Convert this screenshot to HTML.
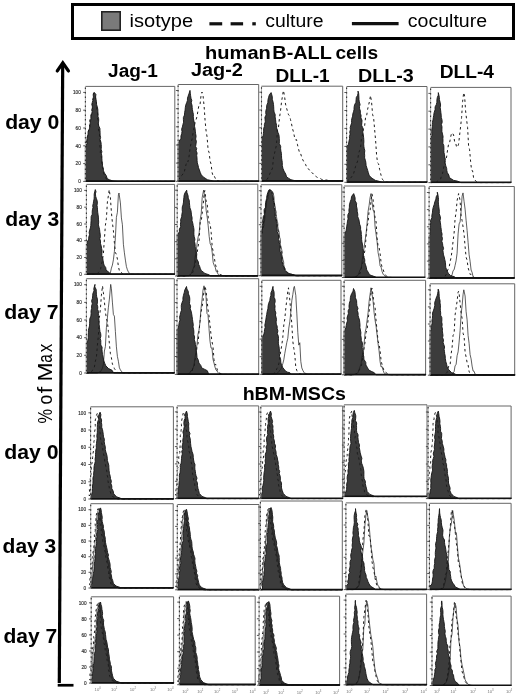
<!DOCTYPE html>
<html><head><meta charset="utf-8"><style>
html,body{margin:0;padding:0;background:#fff;}
body{width:520px;height:699px;overflow:hidden;position:relative;}
svg{position:absolute;left:0;top:0;will-change:transform;}
text{font-family:"Liberation Sans", sans-serif;}
</style></head><body>
<svg width="520" height="699" viewBox="0 0 520 699">
<rect x="72.5" y="4.5" width="441" height="34" fill="#fff" stroke="#000" stroke-width="3"/>
<rect x="101.8" y="11.8" width="18.4" height="18.4" fill="#7a7a7a" stroke="#222" stroke-width="1.6"/>
<line x1="209.4" y1="23.8" x2="222.2" y2="23.8" stroke="#111" stroke-width="3.2"/>
<line x1="230.6" y1="23.8" x2="243.1" y2="23.8" stroke="#111" stroke-width="3.2"/>
<line x1="252.3" y1="23.8" x2="255.8" y2="23.8" stroke="#111" stroke-width="3.2"/>
<line x1="351.9" y1="23.6" x2="398.6" y2="23.6" stroke="#111" stroke-width="3.2"/>
<text transform="translate(129.50,27.20) scale(1.0561,1)" font-size="19" fill="#000">isotype</text>
<text transform="translate(265.23,27.00) scale(1.0219,1)" font-size="19" fill="#000">culture</text>
<text transform="translate(407.82,27.00) scale(1.0287,1)" font-size="19" fill="#000">coculture</text>
<text transform="translate(205.10,58.80) scale(1.0560,1)" font-size="19" font-weight="bold" fill="#000">human</text>
<text transform="translate(272.31,58.80) scale(1.0454,1)" font-size="19" font-weight="bold" fill="#000">B-ALL</text>
<text transform="translate(335.43,58.80) scale(1.0085,1)" font-size="19" font-weight="bold" fill="#000">cells</text>
<text transform="translate(108.11,76.50) scale(1.0014,1)" font-size="19" font-weight="bold" fill="#000">Jag-1</text>
<text transform="translate(190.90,75.90) scale(1.0465,1)" font-size="19" font-weight="bold" fill="#000">Jag-2</text>
<text transform="translate(275.56,81.60) scale(1.0046,1)" font-size="19" font-weight="bold" fill="#000">DLL-1</text>
<text transform="translate(357.92,81.50) scale(1.0372,1)" font-size="19" font-weight="bold" fill="#000">DLL-3</text>
<text transform="translate(439.65,78.30) scale(1.0088,1)" font-size="19" font-weight="bold" fill="#000">DLL-4</text>
<text transform="translate(242.63,399.60) scale(1.0312,1)" font-size="19" font-weight="bold" fill="#000">hBM-MSCs</text>
<text transform="translate(5.15,129.00) scale(1.0586,1)" font-size="20" font-weight="bold" fill="#000">day 0</text>
<text transform="translate(5.25,225.80) scale(1.0565,1)" font-size="20" font-weight="bold" fill="#000">day 3</text>
<text transform="translate(4.25,319.20) scale(1.0628,1)" font-size="20" font-weight="bold" fill="#000">day 7</text>
<text transform="translate(4.25,459.30) scale(1.0606,1)" font-size="20" font-weight="bold" fill="#000">day 0</text>
<text transform="translate(2.56,552.60) scale(1.0504,1)" font-size="20" font-weight="bold" fill="#000">day 3</text>
<text transform="translate(3.46,643.00) scale(1.0526,1)" font-size="20" font-weight="bold" fill="#000">day 7</text>
<text transform="translate(51.70,423.47) rotate(-90) scale(0.838,1)" font-size="19.5" fill="#000">%</text>
<text transform="translate(51.70,404.40) rotate(-90) scale(0.896,1)" font-size="19.5" fill="#000">o</text>
<text transform="translate(51.70,393.35) rotate(-90) scale(1.180,1)" font-size="19.5" fill="#000">f</text>
<text transform="translate(51.70,381.54) rotate(-90) scale(1.179,1)" font-size="19.5" fill="#000">M</text>
<text transform="translate(51.70,362.69) rotate(-90) scale(0.784,1)" font-size="19.5" fill="#000">a</text>
<text transform="translate(51.70,352.26) rotate(-90) scale(0.874,1)" font-size="19.5" fill="#000">x</text>
<line x1="62.7" y1="63" x2="59.3" y2="683" stroke="#000" stroke-width="3.2"/>
<polyline points="57.3,70.9 62.8,62.8 68.4,70.9" fill="none" stroke="#000" stroke-width="3.3" stroke-linejoin="miter" stroke-linecap="round"/>
<rect x="57.7" y="683.9" width="15.8" height="2.7" fill="#000"/>
<path d="M85.4,86.4 H174.8 V181.4" fill="none" stroke="#666" stroke-width="1"/>
<polygon points="85.4,181.4 85.4,147.8 86.1,145.5 87.0,143.6 86.8,141.3 87.0,138.9 87.5,136.9 87.9,134.9 88.2,132.3 88.7,130.4 89.6,128.1 89.8,125.8 90.1,123.5 90.5,121.0 90.9,118.7 90.9,116.6 91.7,114.1 92.1,111.8 92.6,109.3 92.3,107.0 92.5,104.8 92.3,102.3 93.1,100.0 93.5,97.4 93.2,95.0 94.1,92.3 95.9,94.4 95.6,97.0 96.0,99.2 96.4,101.8 96.6,104.6 97.3,107.0 97.8,109.3 97.9,111.7 98.0,114.2 98.0,116.6 98.7,118.8 98.7,121.1 98.3,123.2 98.6,125.7 99.9,128.3 100.0,130.3 100.1,132.9 100.1,135.1 100.6,137.6 100.0,139.6 101.0,142.3 101.2,144.5 101.4,146.7 101.1,149.2 101.9,151.7 101.4,153.7 101.9,156.3 101.9,158.3 102.0,161.0 102.5,163.2 102.5,165.9 103.2,168.0 103.5,170.8 104.4,173.0 106.3,175.7 107.2,178.6 109.2,179.7 112.1,180.7 116.0,181.4 117.5,181.4 174.8,181.4" fill="#3c3c3c" stroke="#141414" stroke-width="0.9" stroke-linejoin="round"/>
<polyline points="85.4,148.6 85.7,146.2 85.9,144.4 86.2,142.1 87.0,139.7 87.0,137.7 87.7,135.5 87.9,133.5 88.3,131.2 89.0,128.9 89.7,126.5 89.3,124.1 89.6,121.8 90.0,119.5 90.6,117.2 91.1,114.9 91.5,112.6 91.8,110.1 92.0,107.9 91.7,105.5 92.1,103.2 92.5,100.8 93.1,98.1 93.1,95.6 93.5,93.1 95.3,95.2 95.4,97.5 95.4,100.4 96.4,102.7 96.6,105.2 96.7,107.8 97.1,110.3 97.4,112.5 97.9,115.0 97.2,117.2 97.8,119.5 98.1,121.9 98.4,124.1 98.8,126.7 98.4,129.0 98.8,131.3 99.5,133.8 99.5,135.9 100.0,138.2 100.1,140.5 100.2,142.9 99.9,145.2 100.1,147.8 100.5,150.0 100.3,152.2 100.7,154.5 101.4,157.0 101.6,159.5 101.6,161.5 101.9,164.0 102.1,166.5 103.1,169.1 103.3,171.2 103.8,173.8 105.3,176.8 106.6,179.4 108.9,180.6 111.5,181.4 115.4,181.4 116.9,181.4 174.8,181.4" fill="none" stroke="#1c1c1c" stroke-width="1.0" stroke-dasharray="2.5,3.0"/>
<line x1="85.4" y1="181.1" x2="175.3" y2="181.1" stroke="#111" stroke-width="1.6"/>
<line x1="85.4" y1="86.4" x2="85.4" y2="181.4" stroke="#aaa" stroke-width="1"/>
<line x1="85.4" y1="87.4" x2="85.4" y2="181.4" stroke="#333" stroke-width="1.1" stroke-dasharray="1.6,2.9"/>
<line x1="83.2" y1="181.4" x2="85.4" y2="181.4" stroke="#444" stroke-width="0.9"/>
<line x1="83.2" y1="163.6" x2="85.4" y2="163.6" stroke="#444" stroke-width="0.9"/>
<line x1="83.2" y1="145.8" x2="85.4" y2="145.8" stroke="#444" stroke-width="0.9"/>
<line x1="83.2" y1="128.0" x2="85.4" y2="128.0" stroke="#444" stroke-width="0.9"/>
<line x1="83.2" y1="110.2" x2="85.4" y2="110.2" stroke="#444" stroke-width="0.9"/>
<line x1="83.2" y1="92.4" x2="85.4" y2="92.4" stroke="#444" stroke-width="0.9"/>
<text x="80.8" y="183.1" font-size="4.7" fill="#2e2e2e" stroke="#2e2e2e" stroke-width="0.15" text-anchor="end" font-family='Liberation Sans', sans-serif>0</text>
<text x="80.8" y="165.3" font-size="4.7" fill="#2e2e2e" stroke="#2e2e2e" stroke-width="0.15" text-anchor="end" font-family='Liberation Sans', sans-serif>20</text>
<text x="80.8" y="147.5" font-size="4.7" fill="#2e2e2e" stroke="#2e2e2e" stroke-width="0.15" text-anchor="end" font-family='Liberation Sans', sans-serif>40</text>
<text x="80.8" y="129.7" font-size="4.7" fill="#2e2e2e" stroke="#2e2e2e" stroke-width="0.15" text-anchor="end" font-family='Liberation Sans', sans-serif>60</text>
<text x="80.8" y="111.9" font-size="4.7" fill="#2e2e2e" stroke="#2e2e2e" stroke-width="0.15" text-anchor="end" font-family='Liberation Sans', sans-serif>80</text>
<text x="80.8" y="94.1" font-size="4.7" fill="#2e2e2e" stroke="#2e2e2e" stroke-width="0.15" text-anchor="end" font-family='Liberation Sans', sans-serif>100</text>
<path d="M178.1,84.5 H258.7 V181.3" fill="none" stroke="#666" stroke-width="1"/>
<polygon points="178.1,181.3 178.1,144.0 179.1,141.2 181.0,138.3 180.9,136.1 181.7,133.7 182.0,131.5 181.6,129.2 182.4,126.9 182.9,124.5 183.6,122.2 183.4,119.6 183.4,117.5 184.5,115.0 184.6,112.6 185.1,110.1 185.3,107.6 185.7,105.2 186.7,102.6 187.4,100.5 187.5,98.1 188.1,96.2 188.9,94.0 190.0,90.4 190.3,93.2 190.6,95.6 191.0,98.3 191.8,100.4 191.2,102.9 192.0,105.1 192.2,107.4 192.4,109.7 192.9,112.2 193.4,114.3 193.3,116.8 193.5,118.9 193.9,121.1 194.7,123.7 194.5,126.2 195.1,128.8 195.3,131.1 195.6,133.7 196.1,136.3 195.6,139.1 196.4,141.3 196.0,144.0 195.6,146.5 196.7,148.5 196.1,150.9 197.1,153.0 196.7,155.4 197.0,158.0 197.1,160.4 197.3,162.9 198.1,165.4 198.5,167.6 199.4,170.0 200.3,172.6 201.2,174.6 203.1,176.9 205.2,178.2 207.4,179.7 210.5,180.4 213.1,181.1 214.6,181.3 258.7,181.3" fill="#3c3c3c" stroke="#141414" stroke-width="0.9" stroke-linejoin="round"/>
<polyline points="178.1,179.8 179.1,178.7 180.1,178.2 181.1,176.0 182.1,175.2 183.1,173.6 184.1,173.0 185.1,168.3 186.1,164.3 187.1,161.0 188.1,161.7 189.1,156.0 190.1,148.1 191.1,142.9 192.1,139.0 193.1,132.7 194.1,126.8 195.1,122.3 196.1,119.6 197.1,116.1 198.1,109.7 199.1,104.3 200.1,104.1 201.1,94.8 202.0,92.0 203.1,96.2 204.1,106.1 205.1,120.8 206.1,131.1 207.1,137.0 208.1,149.8 209.1,152.6 210.1,161.0 211.1,164.2 212.1,172.6 213.1,176.1 214.1,175.8 215.1,177.9 216.1,180.2 217.1,180.5 218.1,180.7 219.1,181.1 220.1,181.2 221.1,181.3 222.1,181.3 223.1,181.3 224.1,181.3 225.1,181.3 226.1,181.3 227.1,181.3 228.1,181.3 229.1,181.3 230.1,181.3 231.1,181.3 232.1,181.3 233.1,181.3 234.1,181.3 235.1,181.3 236.1,181.3 237.1,181.3 238.1,181.3 239.1,181.3 240.1,181.3 241.1,181.3 242.1,181.3 243.1,181.3 244.1,181.3 245.1,181.3 246.1,181.3 247.1,181.3 248.1,181.3 249.1,181.3 250.1,181.3 251.1,181.3 252.1,181.3 253.1,181.3 254.1,181.3 255.1,181.3 256.1,181.3 257.1,181.3 258.1,181.3 258.7,181.3" fill="none" stroke="#1c1c1c" stroke-width="1.0" stroke-dasharray="2.5,3.0"/>
<line x1="178.1" y1="181.0" x2="259.2" y2="181.0" stroke="#111" stroke-width="1.6"/>
<line x1="178.1" y1="84.5" x2="178.1" y2="181.3" stroke="#aaa" stroke-width="1"/>
<line x1="178.1" y1="85.5" x2="178.1" y2="181.3" stroke="#333" stroke-width="1.1" stroke-dasharray="1.6,2.9"/>
<line x1="175.9" y1="181.3" x2="178.1" y2="181.3" stroke="#444" stroke-width="0.9"/>
<line x1="175.9" y1="163.1" x2="178.1" y2="163.1" stroke="#444" stroke-width="0.9"/>
<line x1="175.9" y1="145.0" x2="178.1" y2="145.0" stroke="#444" stroke-width="0.9"/>
<line x1="175.9" y1="126.8" x2="178.1" y2="126.8" stroke="#444" stroke-width="0.9"/>
<line x1="175.9" y1="108.7" x2="178.1" y2="108.7" stroke="#444" stroke-width="0.9"/>
<line x1="175.9" y1="90.5" x2="178.1" y2="90.5" stroke="#444" stroke-width="0.9"/>
<path d="M261.5,86.2 H342.7 V181.2" fill="none" stroke="#666" stroke-width="1"/>
<polygon points="261.5,181.2 261.5,138.3 263.1,135.9 263.4,133.6 263.7,131.1 263.6,128.6 264.4,126.4 264.4,124.4 265.3,121.8 265.1,119.7 264.9,117.3 266.1,114.9 265.7,112.7 265.9,110.6 266.6,108.3 266.7,105.4 267.8,102.7 268.0,99.7 268.6,97.3 269.4,94.7 271.1,92.6 271.8,94.9 272.3,96.9 272.3,99.3 273.1,102.1 273.5,104.4 273.7,106.9 273.8,109.3 274.1,112.1 275.2,114.6 275.1,116.9 275.6,119.8 275.9,122.6 276.6,125.4 276.6,127.8 277.2,130.0 278.0,132.6 279.0,135.2 279.3,138.4 279.4,141.1 279.3,143.6 280.7,146.3 280.6,148.7 280.9,151.1 281.4,153.3 281.5,155.7 281.6,158.2 282.0,160.4 282.3,162.6 282.3,165.4 282.9,168.3 284.0,171.1 285.7,174.0 286.6,176.9 288.8,178.4 290.9,179.7 293.4,180.3 296.6,181.1 298.1,181.2 342.7,181.2" fill="#3c3c3c" stroke="#141414" stroke-width="0.9" stroke-linejoin="round"/>
<polyline points="261.5,181.1 262.5,181.0 263.5,180.9 264.5,180.6 265.5,180.4 266.5,179.5 267.5,178.9 268.5,176.8 269.5,174.6 270.5,172.1 271.5,170.3 272.5,168.2 273.5,157.4 274.5,153.5 275.5,148.9 276.5,145.0 277.5,128.0 278.5,127.3 279.5,117.6 280.5,111.2 281.5,102.1 282.5,95.9 283.4,90.5 284.5,95.8 285.5,104.0 286.5,107.9 287.5,111.4 288.5,114.8 289.5,115.6 290.5,119.5 291.5,123.8 292.5,128.6 293.5,132.0 294.5,137.1 295.5,139.9 296.5,139.6 297.5,144.8 298.5,148.8 299.5,152.6 300.5,153.1 301.5,156.6 302.5,159.2 303.5,161.2 304.5,162.9 305.5,164.3 306.5,166.7 307.5,167.4 308.5,169.3 309.5,169.8 310.5,171.4 311.5,172.5 312.5,173.0 313.5,174.2 314.5,175.7 315.5,176.1 316.5,176.8 317.5,177.5 318.5,177.6 319.5,178.1 320.5,178.6 321.5,179.3 322.5,179.5 323.5,179.7 324.5,179.8 325.5,179.9 326.5,180.0 327.5,180.3 328.5,180.3 329.5,180.5 330.5,180.6 331.5,180.7 332.5,180.8 333.5,180.8 334.5,180.9 335.5,180.9 336.5,181.0 337.5,181.0 338.5,181.0 339.5,181.1 340.5,181.1 341.5,181.1 342.5,181.1 342.7,181.1" fill="none" stroke="#1c1c1c" stroke-width="1.0" stroke-dasharray="2.5,3.0"/>
<line x1="261.5" y1="180.9" x2="343.2" y2="180.9" stroke="#111" stroke-width="1.6"/>
<line x1="261.5" y1="86.2" x2="261.5" y2="181.2" stroke="#aaa" stroke-width="1"/>
<line x1="261.5" y1="87.2" x2="261.5" y2="181.2" stroke="#333" stroke-width="1.1" stroke-dasharray="1.6,2.9"/>
<line x1="259.3" y1="181.2" x2="261.5" y2="181.2" stroke="#444" stroke-width="0.9"/>
<line x1="259.3" y1="163.4" x2="261.5" y2="163.4" stroke="#444" stroke-width="0.9"/>
<line x1="259.3" y1="145.6" x2="261.5" y2="145.6" stroke="#444" stroke-width="0.9"/>
<line x1="259.3" y1="127.8" x2="261.5" y2="127.8" stroke="#444" stroke-width="0.9"/>
<line x1="259.3" y1="110.0" x2="261.5" y2="110.0" stroke="#444" stroke-width="0.9"/>
<line x1="259.3" y1="92.2" x2="261.5" y2="92.2" stroke="#444" stroke-width="0.9"/>
<path d="M346.6,86.5 H427.0 V182.3" fill="none" stroke="#666" stroke-width="1"/>
<polygon points="346.6,182.3 346.6,146.9 348.5,144.2 349.0,141.1 349.6,138.7 349.4,136.6 350.2,134.0 349.7,132.2 350.4,129.7 350.2,127.5 350.8,125.2 351.7,122.9 351.5,120.5 351.9,118.3 352.6,116.2 352.8,114.0 353.5,111.7 354.0,109.7 354.1,107.2 354.6,104.7 355.9,102.4 356.1,99.7 356.3,97.5 357.6,95.3 358.1,93.1 358.0,91.1 358.7,93.7 358.9,97.0 359.0,99.7 359.3,102.0 360.1,104.5 359.5,106.6 359.6,108.8 360.4,111.1 360.3,113.2 361.1,115.5 360.9,117.8 362.0,120.2 361.9,122.6 361.6,125.2 362.7,127.7 362.7,130.1 362.9,132.6 363.3,134.8 363.6,137.3 363.8,139.6 363.9,141.7 363.7,144.0 363.9,146.4 364.2,148.3 364.8,150.7 364.5,153.1 364.7,155.4 364.6,157.9 365.5,160.6 365.9,162.8 366.1,165.4 366.9,168.0 367.7,170.4 368.3,172.6 369.1,175.2 371.1,177.6 372.9,178.8 375.4,180.4 378.0,181.0 381.1,181.9 382.6,182.3 427.0,182.3" fill="#3c3c3c" stroke="#141414" stroke-width="0.9" stroke-linejoin="round"/>
<polyline points="346.6,181.5 347.6,180.9 348.6,180.0 349.6,179.8 350.6,178.2 351.6,176.8 352.6,175.5 353.6,173.5 354.6,170.0 355.6,166.3 356.6,163.7 357.6,161.1 358.6,153.2 359.6,150.6 360.6,147.4 361.6,136.6 362.6,135.0 363.6,128.0 364.6,126.2 365.6,117.0 366.6,116.1 367.6,109.4 368.6,105.0 369.6,101.0 370.5,95.5 371.6,102.4 372.6,114.6 373.6,117.5 374.6,129.2 375.6,140.4 376.6,155.3 377.6,163.0 378.6,163.9 379.6,169.4 380.6,173.5 381.6,177.3 382.6,179.6 383.6,180.5 384.6,181.8 385.6,182.0 386.6,182.1 387.6,182.2 388.6,182.3 389.6,182.3 390.6,182.3 391.6,182.3 392.6,182.3 393.6,182.3 394.6,182.3 395.6,182.3 396.6,182.3 397.6,182.3 398.6,182.3 399.6,182.3 400.6,182.3 401.6,182.3 402.6,182.3 403.6,182.3 404.6,182.3 405.6,182.3 406.6,182.3 407.6,182.3 408.6,182.3 409.6,182.3 410.6,182.3 411.6,182.3 412.6,182.3 413.6,182.3 414.6,182.3 415.6,182.3 416.6,182.3 417.6,182.3 418.6,182.3 419.6,182.3 420.6,182.3 421.6,182.3 422.6,182.3 423.6,182.3 424.6,182.3 425.6,182.3 426.6,182.3 427.0,182.3" fill="none" stroke="#1c1c1c" stroke-width="1.0" stroke-dasharray="2.5,3.0"/>
<line x1="346.6" y1="182.0" x2="427.5" y2="182.0" stroke="#111" stroke-width="1.6"/>
<line x1="346.6" y1="86.5" x2="346.6" y2="182.3" stroke="#aaa" stroke-width="1"/>
<line x1="346.6" y1="87.5" x2="346.6" y2="182.3" stroke="#333" stroke-width="1.1" stroke-dasharray="1.6,2.9"/>
<line x1="344.4" y1="182.3" x2="346.6" y2="182.3" stroke="#444" stroke-width="0.9"/>
<line x1="344.4" y1="164.3" x2="346.6" y2="164.3" stroke="#444" stroke-width="0.9"/>
<line x1="344.4" y1="146.4" x2="346.6" y2="146.4" stroke="#444" stroke-width="0.9"/>
<line x1="344.4" y1="128.4" x2="346.6" y2="128.4" stroke="#444" stroke-width="0.9"/>
<line x1="344.4" y1="110.5" x2="346.6" y2="110.5" stroke="#444" stroke-width="0.9"/>
<line x1="344.4" y1="92.5" x2="346.6" y2="92.5" stroke="#444" stroke-width="0.9"/>
<path d="M430.6,87.4 H511.0 V182.6" fill="none" stroke="#666" stroke-width="1"/>
<polygon points="430.6,182.6 430.6,138.3 431.8,135.9 431.9,134.0 431.6,131.6 431.9,129.0 432.3,126.9 432.4,124.7 432.4,122.4 433.0,119.8 433.3,117.6 433.7,115.4 434.1,112.7 435.1,109.6 435.1,106.9 436.3,104.6 436.9,102.3 436.9,99.7 437.4,97.2 438.3,95.2 438.3,92.6 438.8,94.8 439.4,97.5 439.4,99.7 440.2,102.5 440.6,105.0 440.2,107.5 440.6,110.1 440.9,112.6 441.2,115.1 441.3,117.4 442.0,119.9 442.2,122.2 441.4,124.5 442.0,126.9 441.9,129.2 441.9,131.4 442.5,134.1 443.1,136.6 442.9,138.5 443.0,141.1 442.8,143.2 443.8,145.6 443.9,148.0 443.9,150.5 444.0,152.6 444.5,154.7 444.7,157.1 445.4,159.3 444.8,161.9 445.4,164.0 445.8,165.9 446.7,168.5 446.8,170.3 447.3,172.6 448.8,175.0 449.4,177.6 451.2,178.8 453.7,180.4 457.0,181.0 459.4,181.9 460.9,182.6 511.0,182.6" fill="#3c3c3c" stroke="#141414" stroke-width="0.9" stroke-linejoin="round"/>
<polyline points="430.6,182.6 431.6,182.6 432.6,182.5 433.6,182.4 434.6,182.4 435.6,182.1 436.6,182.0 437.6,181.1 438.6,180.2 439.6,179.5 440.6,179.2 441.6,175.0 442.6,173.3 443.6,168.0 444.6,163.2 445.6,160.0 446.6,157.0 447.6,149.7 448.6,144.0 449.6,142.7 450.6,137.3 451.6,132.9 452.6,133.3 453.6,135.0 454.6,141.6 455.6,142.5 456.6,147.3 457.6,146.7 458.6,144.2 459.6,135.2 460.6,126.5 461.6,117.4 462.6,101.7 463.7,92.6 464.6,96.2 465.6,110.9 466.6,119.6 467.6,127.6 468.6,146.0 469.6,149.7 470.6,161.5 471.6,170.4 472.6,170.7 473.6,178.0 474.6,179.1 475.6,180.9 476.6,181.7 477.6,182.1 478.6,182.5 479.6,182.5 480.6,182.6 481.6,182.6 482.6,182.6 483.6,182.6 484.6,182.6 485.6,182.6 486.6,182.6 487.6,182.6 488.6,182.6 489.6,182.6 490.6,182.6 491.6,182.6 492.6,182.6 493.6,182.6 494.6,182.6 495.6,182.6 496.6,182.6 497.6,182.6 498.6,182.6 499.6,182.6 500.6,182.6 501.6,182.6 502.6,182.6 503.6,182.6 504.6,182.6 505.6,182.6 506.6,182.6 507.6,182.6 508.6,182.6 509.6,182.6 510.6,182.6 511.0,182.6" fill="none" stroke="#1c1c1c" stroke-width="1.0" stroke-dasharray="2.5,3.0"/>
<line x1="430.6" y1="182.3" x2="511.5" y2="182.3" stroke="#111" stroke-width="1.6"/>
<line x1="430.6" y1="87.4" x2="430.6" y2="182.6" stroke="#aaa" stroke-width="1"/>
<line x1="430.6" y1="88.4" x2="430.6" y2="182.6" stroke="#333" stroke-width="1.1" stroke-dasharray="1.6,2.9"/>
<line x1="428.4" y1="182.6" x2="430.6" y2="182.6" stroke="#444" stroke-width="0.9"/>
<line x1="428.4" y1="164.8" x2="430.6" y2="164.8" stroke="#444" stroke-width="0.9"/>
<line x1="428.4" y1="146.9" x2="430.6" y2="146.9" stroke="#444" stroke-width="0.9"/>
<line x1="428.4" y1="129.1" x2="430.6" y2="129.1" stroke="#444" stroke-width="0.9"/>
<line x1="428.4" y1="111.2" x2="430.6" y2="111.2" stroke="#444" stroke-width="0.9"/>
<line x1="428.4" y1="93.4" x2="430.6" y2="93.4" stroke="#444" stroke-width="0.9"/>
<path d="M86.4,184.4 H174.6 V274.3" fill="none" stroke="#666" stroke-width="1"/>
<polygon points="86.4,274.3 86.4,246.6 87.5,244.4 87.2,242.0 88.7,239.2 88.8,237.0 89.5,234.8 89.1,232.6 89.7,230.1 90.4,227.9 90.8,225.4 90.9,223.2 91.1,220.8 91.1,218.8 91.2,216.5 92.3,214.2 92.2,212.2 92.4,209.8 93.0,207.6 92.7,205.7 93.3,203.4 93.6,201.2 94.1,198.9 94.2,196.4 94.2,194.1 94.7,191.8 95.3,189.6 96.0,191.7 95.4,193.9 95.7,196.4 96.4,198.5 97.2,200.9 97.4,203.1 97.0,205.3 97.4,207.5 97.5,209.9 97.7,212.2 98.1,214.9 98.4,217.1 98.5,219.9 98.7,222.1 98.4,224.9 99.1,227.4 99.6,229.7 99.8,232.0 100.2,234.1 100.4,236.7 99.8,238.7 100.5,241.1 100.5,243.7 101.2,245.9 101.6,248.4 102.1,250.9 101.9,253.5 101.8,255.8 102.7,258.3 103.1,260.5 103.5,263.1 104.1,265.2 105.8,267.7 106.0,270.0 109.4,272.7 110.9,274.3 174.6,274.3" fill="#3c3c3c" stroke="#141414" stroke-width="0.9" stroke-linejoin="round"/>
<polyline points="86.4,274.3 87.4,274.3 88.4,274.3 89.4,274.3 90.4,274.3 91.4,274.3 92.4,274.3 93.4,274.3 94.4,274.2 95.4,274.2 96.4,274.0 97.4,273.5 98.4,272.5 99.4,271.3 100.4,270.2 101.4,264.8 102.4,260.5 103.4,253.5 104.4,239.0 105.4,225.3 106.4,218.6 107.4,201.9 108.4,195.6 109.2,189.6 110.4,197.6 111.4,212.2 112.4,222.6 113.4,230.6 114.4,242.8 115.4,252.6 116.4,254.4 117.4,259.1 118.4,266.4 119.4,270.9 120.4,270.7 121.4,272.4 122.4,273.7 123.4,274.0 124.4,274.2 125.4,274.2 126.4,274.3 127.4,274.3 128.4,274.3 129.4,274.3 130.4,274.3 131.4,274.3 132.4,274.3 133.4,274.3 134.4,274.3 135.4,274.3 136.4,274.3 137.4,274.3 138.4,274.3 139.4,274.3 140.4,274.3 141.4,274.3 142.4,274.3 143.4,274.3 144.4,274.3 145.4,274.3 146.4,274.3 147.4,274.3 148.4,274.3 149.4,274.3 150.4,274.3 151.4,274.3 152.4,274.3 153.4,274.3 154.4,274.3 155.4,274.3 156.4,274.3 157.4,274.3 158.4,274.3 159.4,274.3 160.4,274.3 161.4,274.3 162.4,274.3 163.4,274.3 164.4,274.3 165.4,274.3 166.4,274.3 167.4,274.3 168.4,274.3 169.4,274.3 170.4,274.3 171.4,274.3 172.4,274.3 173.4,274.3 174.4,274.3 174.6,274.3" fill="none" stroke="#1c1c1c" stroke-width="1.0" stroke-dasharray="2.5,3.0"/>
<polyline points="86.4,274.3 87.4,274.3 88.4,274.3 89.4,274.3 90.4,274.3 91.4,274.3 92.4,274.3 93.4,274.3 94.4,274.3 95.4,274.3 96.4,274.3 97.4,274.3 98.4,274.3 99.4,274.3 100.4,274.3 101.4,274.3 102.4,274.3 103.4,274.3 104.4,274.3 105.4,274.3 106.4,274.3 107.4,274.2 108.4,274.1 109.4,273.4 110.4,272.8 111.4,268.1 112.4,265.1 113.4,259.8 114.4,251.4 115.4,237.5 116.4,217.4 117.4,212.3 118.4,194.8 119.0,193.0 120.4,202.9 121.4,217.9 122.4,224.7 123.4,244.3 124.4,252.8 125.4,260.1 126.4,266.5 127.4,269.8 128.4,271.9 129.4,273.4 130.4,274.1 131.4,274.2 132.4,274.3 133.4,274.3 134.4,274.3 135.4,274.3 136.4,274.3 137.4,274.3 138.4,274.3 139.4,274.3 140.4,274.3 141.4,274.3 142.4,274.3 143.4,274.3 144.4,274.3 145.4,274.3 146.4,274.3 147.4,274.3 148.4,274.3 149.4,274.3 150.4,274.3 151.4,274.3 152.4,274.3 153.4,274.3 154.4,274.3 155.4,274.3 156.4,274.3 157.4,274.3 158.4,274.3 159.4,274.3 160.4,274.3 161.4,274.3 162.4,274.3 163.4,274.3 164.4,274.3 165.4,274.3 166.4,274.3 167.4,274.3 168.4,274.3 169.4,274.3 170.4,274.3 171.4,274.3 172.4,274.3 173.4,274.3 174.4,274.3 174.6,274.3" fill="none" stroke="#1a1a1a" stroke-width="0.7"/>
<line x1="86.4" y1="274.0" x2="175.1" y2="274.0" stroke="#111" stroke-width="1.6"/>
<line x1="86.4" y1="184.4" x2="86.4" y2="274.3" stroke="#aaa" stroke-width="1"/>
<line x1="86.4" y1="185.4" x2="86.4" y2="274.3" stroke="#333" stroke-width="1.1" stroke-dasharray="1.6,2.9"/>
<line x1="84.2" y1="274.3" x2="86.4" y2="274.3" stroke="#444" stroke-width="0.9"/>
<line x1="84.2" y1="257.5" x2="86.4" y2="257.5" stroke="#444" stroke-width="0.9"/>
<line x1="84.2" y1="240.7" x2="86.4" y2="240.7" stroke="#444" stroke-width="0.9"/>
<line x1="84.2" y1="224.0" x2="86.4" y2="224.0" stroke="#444" stroke-width="0.9"/>
<line x1="84.2" y1="207.2" x2="86.4" y2="207.2" stroke="#444" stroke-width="0.9"/>
<line x1="84.2" y1="190.4" x2="86.4" y2="190.4" stroke="#444" stroke-width="0.9"/>
<text x="81.8" y="276.0" font-size="4.7" fill="#2e2e2e" stroke="#2e2e2e" stroke-width="0.15" text-anchor="end" font-family='Liberation Sans', sans-serif>0</text>
<text x="81.8" y="259.2" font-size="4.7" fill="#2e2e2e" stroke="#2e2e2e" stroke-width="0.15" text-anchor="end" font-family='Liberation Sans', sans-serif>20</text>
<text x="81.8" y="242.4" font-size="4.7" fill="#2e2e2e" stroke="#2e2e2e" stroke-width="0.15" text-anchor="end" font-family='Liberation Sans', sans-serif>40</text>
<text x="81.8" y="225.7" font-size="4.7" fill="#2e2e2e" stroke="#2e2e2e" stroke-width="0.15" text-anchor="end" font-family='Liberation Sans', sans-serif>60</text>
<text x="81.8" y="208.9" font-size="4.7" fill="#2e2e2e" stroke="#2e2e2e" stroke-width="0.15" text-anchor="end" font-family='Liberation Sans', sans-serif>80</text>
<text x="81.8" y="192.1" font-size="4.7" fill="#2e2e2e" stroke="#2e2e2e" stroke-width="0.15" text-anchor="end" font-family='Liberation Sans', sans-serif>100</text>
<path d="M177.2,184.2 H257.8 V276.0" fill="none" stroke="#666" stroke-width="1"/>
<polygon points="177.2,276.0 177.2,234.2 178.1,234.2 179.4,231.5 179.4,229.1 180.7,226.8 180.4,224.2 180.8,221.9 180.6,219.7 181.7,216.8 181.8,214.6 182.4,211.9 182.2,209.5 182.3,206.9 183.0,204.9 183.5,202.1 183.6,199.9 183.9,197.4 184.1,195.3 184.9,193.0 186.7,190.2 187.0,192.8 188.1,195.7 188.2,198.1 189.3,200.4 189.4,202.9 189.7,205.4 189.9,207.7 190.9,210.4 191.3,212.8 191.4,215.0 192.1,217.6 192.0,220.5 192.8,223.2 193.2,225.5 193.7,227.7 194.0,229.9 193.9,232.1 193.9,234.2 194.2,236.8 194.9,239.2 194.5,241.6 195.1,244.2 195.2,246.6 195.5,248.9 196.2,251.5 196.8,254.0 196.6,256.2 196.7,258.9 198.3,261.8 198.7,264.5 199.7,266.5 200.4,268.8 201.4,270.7 203.4,272.2 204.9,273.4 209.0,274.8 210.5,276.0 257.8,276.0" fill="#3c3c3c" stroke="#141414" stroke-width="0.9" stroke-linejoin="round"/>
<polyline points="177.2,276.0 178.2,276.0 179.2,276.0 180.2,276.0 181.2,276.0 182.2,276.0 183.2,276.0 184.2,276.0 185.2,276.0 186.2,275.9 187.2,275.8 188.2,275.7 189.2,275.5 190.2,275.2 191.2,274.8 192.2,273.8 193.2,271.3 194.2,266.4 195.2,265.8 196.2,255.7 197.2,252.2 198.2,246.0 199.2,239.1 200.2,222.0 201.2,221.3 202.2,213.6 203.2,204.4 204.2,193.2 204.8,190.5 206.2,201.3 207.2,203.5 208.2,217.1 209.2,222.7 210.2,224.2 211.2,232.7 212.2,246.9 213.2,251.6 214.2,256.5 215.2,263.7 216.2,267.1 217.2,270.5 218.2,272.5 219.2,274.0 220.2,274.4 221.2,274.8 222.2,275.6 223.2,275.5 224.2,275.8 225.2,275.9 226.2,276.0 227.2,276.0 228.2,276.0 229.2,276.0 230.2,276.0 231.2,276.0 232.2,276.0 233.2,276.0 234.2,276.0 235.2,276.0 236.2,276.0 237.2,276.0 238.2,276.0 239.2,276.0 240.2,276.0 241.2,276.0 242.2,276.0 243.2,276.0 244.2,276.0 245.2,276.0 246.2,276.0 247.2,276.0 248.2,276.0 249.2,276.0 250.2,276.0 251.2,276.0 252.2,276.0 253.2,276.0 254.2,276.0 255.2,276.0 256.2,276.0 257.2,276.0 257.8,276.0" fill="none" stroke="#1c1c1c" stroke-width="1.0" stroke-dasharray="2.5,3.0"/>
<polyline points="177.2,276.0 178.2,276.0 179.2,276.0 180.2,276.0 181.2,276.0 182.2,276.0 183.2,276.0 184.2,276.0 185.2,275.9 186.2,275.9 187.2,275.8 188.2,275.7 189.2,275.2 190.2,274.9 191.2,273.6 192.2,271.3 193.2,268.7 194.2,266.4 195.2,256.5 196.2,251.6 197.2,242.7 198.2,236.8 199.2,232.6 200.2,219.8 201.2,213.8 202.2,197.6 203.6,190.2 204.2,193.3 205.2,198.5 206.2,210.6 207.2,217.1 208.2,225.8 209.2,236.6 210.2,243.8 211.2,245.7 212.2,252.3 213.2,262.5 214.2,265.4 215.2,267.1 216.2,271.5 217.2,272.1 218.2,274.5 219.2,275.2 220.2,275.3 221.2,275.7 222.2,275.7 223.2,275.9 224.2,275.9 225.2,276.0 226.2,276.0 227.2,276.0 228.2,276.0 229.2,276.0 230.2,276.0 231.2,276.0 232.2,276.0 233.2,276.0 234.2,276.0 235.2,276.0 236.2,276.0 237.2,276.0 238.2,276.0 239.2,276.0 240.2,276.0 241.2,276.0 242.2,276.0 243.2,276.0 244.2,276.0 245.2,276.0 246.2,276.0 247.2,276.0 248.2,276.0 249.2,276.0 250.2,276.0 251.2,276.0 252.2,276.0 253.2,276.0 254.2,276.0 255.2,276.0 256.2,276.0 257.2,276.0 257.8,276.0" fill="none" stroke="#1a1a1a" stroke-width="0.7"/>
<line x1="177.2" y1="275.7" x2="258.3" y2="275.7" stroke="#111" stroke-width="1.6"/>
<line x1="177.2" y1="184.2" x2="177.2" y2="276.0" stroke="#aaa" stroke-width="1"/>
<line x1="177.2" y1="185.2" x2="177.2" y2="276.0" stroke="#333" stroke-width="1.1" stroke-dasharray="1.6,2.9"/>
<line x1="175.0" y1="276.0" x2="177.2" y2="276.0" stroke="#444" stroke-width="0.9"/>
<line x1="175.0" y1="258.8" x2="177.2" y2="258.8" stroke="#444" stroke-width="0.9"/>
<line x1="175.0" y1="241.7" x2="177.2" y2="241.7" stroke="#444" stroke-width="0.9"/>
<line x1="175.0" y1="224.5" x2="177.2" y2="224.5" stroke="#444" stroke-width="0.9"/>
<line x1="175.0" y1="207.4" x2="177.2" y2="207.4" stroke="#444" stroke-width="0.9"/>
<line x1="175.0" y1="190.2" x2="177.2" y2="190.2" stroke="#444" stroke-width="0.9"/>
<path d="M261.0,184.7 H341.8 V275.7" fill="none" stroke="#666" stroke-width="1"/>
<polygon points="261.0,275.7 261.0,232.9 261.3,230.6 262.6,228.0 262.2,225.5 262.8,223.2 262.6,220.9 263.0,219.0 263.3,216.5 264.4,214.6 264.2,212.2 264.1,209.7 265.5,207.3 265.4,205.1 265.6,202.6 266.2,200.1 266.7,198.2 266.9,195.7 267.7,192.9 268.7,190.2 269.7,189.6 271.7,191.6 272.4,194.6 273.2,197.0 273.1,199.9 273.8,202.3 274.4,204.9 274.1,207.3 274.5,209.5 275.3,211.7 275.1,214.5 275.2,216.7 275.9,219.1 276.4,221.4 276.9,223.7 277.0,226.3 277.2,228.7 277.1,231.6 278.5,234.4 278.6,237.0 278.6,239.4 278.9,241.9 279.8,244.4 280.0,246.6 279.9,248.9 280.2,251.6 281.2,253.6 281.4,256.2 282.1,258.9 282.1,261.9 282.7,264.5 284.0,267.6 284.8,270.7 288.2,273.4 290.7,274.0 293.7,274.8 295.2,275.7 341.8,275.7" fill="#3c3c3c" stroke="#141414" stroke-width="0.9" stroke-linejoin="round"/>
<polyline points="261.0,233.4 262.0,233.4 262.2,230.8 262.4,228.6 263.5,226.2 263.4,223.7 263.6,221.3 264.4,219.2 264.0,217.2 264.9,214.7 264.8,212.7 264.7,210.2 266.0,207.9 265.5,205.6 266.2,203.1 266.6,200.6 266.6,198.4 267.5,196.2 268.9,193.4 269.3,190.7 270.3,190.1 272.3,192.1 273.3,194.8 273.1,197.5 273.7,200.4 274.2,202.7 274.8,205.2 274.3,207.6 275.1,210.0 275.4,212.5 275.9,214.6 276.1,217.3 276.5,219.6 276.4,222.2 277.4,224.3 277.1,226.8 277.8,229.2 278.4,232.0 278.4,234.8 279.2,237.5 279.6,239.8 279.9,242.4 280.5,244.5 280.6,247.1 280.5,249.6 281.8,251.9 282.0,254.3 282.0,256.7 282.1,259.5 282.6,262.4 283.3,265.0 284.6,267.9 285.4,271.2 288.8,273.9 291.4,274.7 294.3,275.3 295.8,275.7 341.8,275.7" fill="none" stroke="#1c1c1c" stroke-width="1.0" stroke-dasharray="2.5,3.0"/>
<polyline points="261.0,233.1 262.4,233.1 262.3,230.6 262.6,228.3 263.9,225.9 263.8,223.4 264.5,221.1 264.7,219.2 265.0,216.7 264.7,214.8 265.2,212.4 265.7,210.0 265.7,207.4 266.5,205.2 266.6,202.8 266.7,200.4 268.0,198.4 267.9,195.9 268.3,193.0 269.7,190.4 270.7,189.8 272.7,191.8 273.5,194.5 274.0,197.3 274.1,200.1 274.3,202.7 274.6,205.1 275.4,207.2 275.5,209.7 276.3,212.3 275.8,214.5 276.5,216.8 276.9,219.3 277.5,221.9 277.9,224.2 277.8,226.6 278.2,228.9 279.0,231.6 279.4,234.4 279.6,237.2 280.4,239.5 280.3,242.0 280.3,244.4 281.0,246.8 281.6,249.3 282.1,251.7 281.7,254.0 282.4,256.4 282.8,259.0 283.7,262.0 283.7,264.7 284.6,267.8 285.8,270.9 289.2,273.6 292.1,274.4 294.7,275.0 296.2,275.7 341.8,275.7" fill="none" stroke="#1a1a1a" stroke-width="0.7"/>
<line x1="261.0" y1="275.4" x2="342.3" y2="275.4" stroke="#111" stroke-width="1.6"/>
<line x1="261.0" y1="184.7" x2="261.0" y2="275.7" stroke="#aaa" stroke-width="1"/>
<line x1="261.0" y1="185.7" x2="261.0" y2="275.7" stroke="#333" stroke-width="1.1" stroke-dasharray="1.6,2.9"/>
<line x1="258.8" y1="275.7" x2="261.0" y2="275.7" stroke="#444" stroke-width="0.9"/>
<line x1="258.8" y1="258.7" x2="261.0" y2="258.7" stroke="#444" stroke-width="0.9"/>
<line x1="258.8" y1="241.7" x2="261.0" y2="241.7" stroke="#444" stroke-width="0.9"/>
<line x1="258.8" y1="224.7" x2="261.0" y2="224.7" stroke="#444" stroke-width="0.9"/>
<line x1="258.8" y1="207.7" x2="261.0" y2="207.7" stroke="#444" stroke-width="0.9"/>
<line x1="258.8" y1="190.7" x2="261.0" y2="190.7" stroke="#444" stroke-width="0.9"/>
<path d="M344.1,186.0 H424.9 V277.5" fill="none" stroke="#666" stroke-width="1"/>
<polygon points="344.1,277.5 344.1,236.2 345.0,233.4 346.1,230.7 346.5,228.1 346.8,226.1 347.2,223.5 347.5,221.1 348.1,218.9 347.8,216.9 347.9,214.7 349.1,212.3 348.9,210.1 349.4,207.2 349.4,204.8 350.2,201.9 351.2,199.2 351.6,196.4 353.7,193.6 355.1,197.7 355.1,200.6 356.6,203.4 356.4,206.0 357.1,208.7 357.2,211.3 357.8,214.2 357.7,216.7 358.6,218.7 359.2,221.1 359.6,224.1 360.6,226.7 360.6,229.4 361.2,231.9 361.3,234.5 361.6,236.6 361.6,239.3 361.9,241.7 362.4,244.1 362.8,246.1 362.7,248.4 363.3,250.4 363.3,252.7 363.5,255.2 364.0,257.6 364.8,259.9 364.7,262.4 365.5,264.8 366.4,267.5 366.7,269.9 368.2,272.2 369.5,274.7 371.8,275.6 375.0,276.8 376.5,277.5 424.9,277.5" fill="#3c3c3c" stroke="#141414" stroke-width="0.9" stroke-linejoin="round"/>
<polyline points="344.1,277.5 345.1,277.5 346.1,277.5 347.1,277.5 348.1,277.5 349.1,277.5 350.1,277.5 351.1,277.5 352.1,277.5 353.1,277.4 354.1,277.3 355.1,277.2 356.1,276.6 357.1,275.9 358.1,274.8 359.1,273.6 360.1,273.6 361.1,268.3 362.1,264.8 363.1,262.1 364.1,253.9 365.1,249.9 366.1,236.1 367.1,226.1 368.1,222.7 369.1,210.9 370.1,210.6 371.1,199.9 372.0,193.8 373.1,199.5 374.1,210.8 375.1,217.6 376.1,222.0 377.1,238.1 378.1,246.4 379.1,247.5 380.1,253.6 381.1,262.8 382.1,267.6 383.1,269.3 384.1,272.5 385.1,274.4 386.1,275.6 387.1,276.7 388.1,277.0 389.1,277.3 390.1,277.4 391.1,277.4 392.1,277.5 393.1,277.5 394.1,277.5 395.1,277.5 396.1,277.5 397.1,277.5 398.1,277.5 399.1,277.5 400.1,277.5 401.1,277.5 402.1,277.5 403.1,277.5 404.1,277.5 405.1,277.5 406.1,277.5 407.1,277.5 408.1,277.5 409.1,277.5 410.1,277.5 411.1,277.5 412.1,277.5 413.1,277.5 414.1,277.5 415.1,277.5 416.1,277.5 417.1,277.5 418.1,277.5 419.1,277.5 420.1,277.5 421.1,277.5 422.1,277.5 423.1,277.5 424.1,277.5 424.9,277.5" fill="none" stroke="#1c1c1c" stroke-width="1.0" stroke-dasharray="2.5,3.0"/>
<polyline points="344.1,277.5 345.1,277.5 346.1,277.5 347.1,277.5 348.1,277.5 349.1,277.5 350.1,277.5 351.1,277.5 352.1,277.5 353.1,277.3 354.1,277.3 355.1,276.9 356.1,276.6 357.1,276.2 358.1,275.0 359.1,272.6 360.1,269.6 361.1,269.2 362.1,260.9 363.1,254.1 364.1,247.5 365.1,240.5 366.1,233.6 367.1,223.0 368.1,211.3 369.1,205.5 370.1,197.5 371.0,193.6 372.1,202.6 373.1,210.1 374.1,211.7 375.1,227.1 376.1,234.4 377.1,241.8 378.1,252.7 379.1,257.6 380.1,265.8 381.1,267.2 382.1,271.6 383.1,274.2 384.1,275.3 385.1,276.2 386.1,276.8 387.1,277.0 388.1,277.3 389.1,277.4 390.1,277.4 391.1,277.5 392.1,277.5 393.1,277.5 394.1,277.5 395.1,277.5 396.1,277.5 397.1,277.5 398.1,277.5 399.1,277.5 400.1,277.5 401.1,277.5 402.1,277.5 403.1,277.5 404.1,277.5 405.1,277.5 406.1,277.5 407.1,277.5 408.1,277.5 409.1,277.5 410.1,277.5 411.1,277.5 412.1,277.5 413.1,277.5 414.1,277.5 415.1,277.5 416.1,277.5 417.1,277.5 418.1,277.5 419.1,277.5 420.1,277.5 421.1,277.5 422.1,277.5 423.1,277.5 424.1,277.5 424.9,277.5" fill="none" stroke="#1a1a1a" stroke-width="0.7"/>
<line x1="344.1" y1="277.2" x2="425.4" y2="277.2" stroke="#111" stroke-width="1.6"/>
<line x1="344.1" y1="186.0" x2="344.1" y2="277.5" stroke="#aaa" stroke-width="1"/>
<line x1="344.1" y1="187.0" x2="344.1" y2="277.5" stroke="#333" stroke-width="1.1" stroke-dasharray="1.6,2.9"/>
<line x1="341.9" y1="277.5" x2="344.1" y2="277.5" stroke="#444" stroke-width="0.9"/>
<line x1="341.9" y1="260.4" x2="344.1" y2="260.4" stroke="#444" stroke-width="0.9"/>
<line x1="341.9" y1="243.3" x2="344.1" y2="243.3" stroke="#444" stroke-width="0.9"/>
<line x1="341.9" y1="226.2" x2="344.1" y2="226.2" stroke="#444" stroke-width="0.9"/>
<line x1="341.9" y1="209.1" x2="344.1" y2="209.1" stroke="#444" stroke-width="0.9"/>
<line x1="341.9" y1="192.0" x2="344.1" y2="192.0" stroke="#444" stroke-width="0.9"/>
<path d="M429.1,186.5 H514.3 V278.2" fill="none" stroke="#666" stroke-width="1"/>
<polygon points="429.1,278.2 429.1,236.2 430.2,233.9 430.2,231.7 430.0,229.5 430.3,227.2 430.4,225.2 430.7,222.7 430.5,220.6 431.9,217.8 431.8,215.6 432.4,212.9 432.6,210.2 433.2,207.4 434.2,204.5 434.8,201.9 435.9,199.1 436.2,196.8 437.4,194.7 437.3,192.2 437.9,194.6 438.3,197.3 438.5,199.3 438.3,201.9 438.5,204.2 438.8,206.9 439.1,209.0 439.4,211.5 439.2,213.6 440.2,216.3 440.5,218.1 440.0,220.5 440.4,222.8 440.7,225.2 440.9,227.4 441.3,229.6 441.4,231.6 442.1,234.0 441.8,236.2 442.5,238.5 441.8,241.3 442.5,243.3 442.8,245.9 443.6,248.3 442.9,250.5 443.2,252.3 443.5,254.9 444.2,256.9 444.8,259.7 445.4,262.3 445.6,265.1 445.7,267.2 446.6,269.7 447.6,272.0 448.5,273.5 450.4,275.4 454.5,276.8 456.0,278.2 514.3,278.2" fill="#3c3c3c" stroke="#141414" stroke-width="0.9" stroke-linejoin="round"/>
<polyline points="429.1,278.2 430.1,278.2 431.1,278.2 432.1,278.2 433.1,278.2 434.1,278.2 435.1,278.2 436.1,278.2 437.1,278.2 438.1,278.2 439.1,278.2 440.1,278.1 441.1,278.0 442.1,277.9 443.1,277.5 444.1,277.1 445.1,276.2 446.1,274.6 447.1,271.3 448.1,269.2 449.1,267.4 450.1,261.9 451.1,257.3 452.1,250.3 453.1,240.9 454.1,233.0 455.1,218.6 456.1,212.1 457.1,200.6 458.1,195.9 458.6,193.6 459.1,195.5 460.1,200.8 461.1,216.3 462.1,220.5 463.1,227.2 464.1,234.3 465.1,246.8 466.1,257.2 467.1,260.2 468.1,267.7 469.1,271.1 470.1,274.4 471.1,274.1 472.1,275.9 473.1,277.1 474.1,277.5 475.1,278.0 476.1,278.0 477.1,278.1 478.1,278.2 479.1,278.2 480.1,278.2 481.1,278.2 482.1,278.2 483.1,278.2 484.1,278.2 485.1,278.2 486.1,278.2 487.1,278.2 488.1,278.2 489.1,278.2 490.1,278.2 491.1,278.2 492.1,278.2 493.1,278.2 494.1,278.2 495.1,278.2 496.1,278.2 497.1,278.2 498.1,278.2 499.1,278.2 500.1,278.2 501.1,278.2 502.1,278.2 503.1,278.2 504.1,278.2 505.1,278.2 506.1,278.2 507.1,278.2 508.1,278.2 509.1,278.2 510.1,278.2 511.1,278.2 512.1,278.2 513.1,278.2 514.1,278.2 514.3,278.2" fill="none" stroke="#1c1c1c" stroke-width="1.0" stroke-dasharray="2.5,3.0"/>
<polyline points="429.1,278.2 430.1,278.2 431.1,278.2 432.1,278.2 433.1,278.2 434.1,278.2 435.1,278.2 436.1,278.2 437.1,278.2 438.1,278.2 439.1,278.2 440.1,278.2 441.1,278.2 442.1,278.2 443.1,278.2 444.1,278.2 445.1,278.2 446.1,278.1 447.1,278.1 448.1,278.0 449.1,277.8 450.1,277.3 451.1,276.2 452.1,274.6 453.1,270.6 454.1,269.8 455.1,265.4 456.1,260.8 457.1,253.2 458.1,233.9 459.1,223.9 460.1,221.9 461.1,211.6 462.1,196.2 463.0,192.9 464.1,201.7 465.1,209.2 466.1,220.3 467.1,230.4 468.1,242.4 469.1,254.7 470.1,261.3 471.1,270.0 472.1,272.4 473.1,276.7 474.1,277.3 475.1,277.8 476.1,278.1 477.1,278.1 478.1,278.2 479.1,278.2 480.1,278.2 481.1,278.2 482.1,278.2 483.1,278.2 484.1,278.2 485.1,278.2 486.1,278.2 487.1,278.2 488.1,278.2 489.1,278.2 490.1,278.2 491.1,278.2 492.1,278.2 493.1,278.2 494.1,278.2 495.1,278.2 496.1,278.2 497.1,278.2 498.1,278.2 499.1,278.2 500.1,278.2 501.1,278.2 502.1,278.2 503.1,278.2 504.1,278.2 505.1,278.2 506.1,278.2 507.1,278.2 508.1,278.2 509.1,278.2 510.1,278.2 511.1,278.2 512.1,278.2 513.1,278.2 514.1,278.2 514.3,278.2" fill="none" stroke="#1a1a1a" stroke-width="0.7"/>
<line x1="429.1" y1="277.9" x2="514.8" y2="277.9" stroke="#111" stroke-width="1.6"/>
<line x1="429.1" y1="186.5" x2="429.1" y2="278.2" stroke="#aaa" stroke-width="1"/>
<line x1="429.1" y1="187.5" x2="429.1" y2="278.2" stroke="#333" stroke-width="1.1" stroke-dasharray="1.6,2.9"/>
<line x1="426.9" y1="278.2" x2="429.1" y2="278.2" stroke="#444" stroke-width="0.9"/>
<line x1="426.9" y1="261.1" x2="429.1" y2="261.1" stroke="#444" stroke-width="0.9"/>
<line x1="426.9" y1="243.9" x2="429.1" y2="243.9" stroke="#444" stroke-width="0.9"/>
<line x1="426.9" y1="226.8" x2="429.1" y2="226.8" stroke="#444" stroke-width="0.9"/>
<line x1="426.9" y1="209.6" x2="429.1" y2="209.6" stroke="#444" stroke-width="0.9"/>
<line x1="426.9" y1="192.5" x2="429.1" y2="192.5" stroke="#444" stroke-width="0.9"/>
<path d="M86.4,278.7 H174.3 V373.0" fill="none" stroke="#666" stroke-width="1"/>
<polygon points="86.4,373.0 86.4,343.4 87.7,340.5 88.3,337.8 88.2,335.0 88.4,332.8 88.4,330.3 88.9,328.1 89.5,325.9 89.6,323.7 89.7,321.1 89.8,318.8 90.9,316.1 91.1,313.5 91.0,311.1 91.6,308.5 91.6,306.0 92.3,303.7 91.6,300.8 92.4,298.5 92.7,295.9 92.8,293.8 94.0,290.8 93.8,288.6 95.0,284.4 94.8,286.9 96.2,289.5 96.3,291.9 96.4,294.2 96.7,296.7 97.4,299.1 97.5,301.9 97.1,304.5 97.8,306.9 97.6,309.4 98.5,311.4 98.4,313.8 98.4,315.7 98.7,318.1 99.1,320.5 98.7,322.7 99.2,324.9 99.5,327.3 99.7,329.3 100.0,331.8 100.7,333.6 100.9,336.2 100.2,338.4 100.8,340.6 100.8,342.6 100.8,345.0 102.1,347.1 102.0,349.7 102.2,351.8 102.5,354.7 103.2,357.5 103.6,360.2 104.7,363.2 105.8,365.8 108.6,368.6 112.1,370.3 113.6,373.0 174.3,373.0" fill="#3c3c3c" stroke="#141414" stroke-width="0.9" stroke-linejoin="round"/>
<polyline points="86.4,373.0 87.4,373.0 88.4,373.0 89.4,372.9 90.4,372.8 91.4,371.9 92.4,370.3 93.4,369.7 94.4,367.0 95.4,361.1 96.4,357.6 97.4,345.4 98.4,335.5 99.4,317.6 100.4,309.0 101.4,295.3 102.5,285.8 103.4,292.6 104.4,301.6 105.4,312.0 106.4,318.4 107.4,321.8 108.4,331.5 109.4,344.1 110.4,353.6 111.4,357.6 112.4,364.2 113.4,365.5 114.4,368.6 115.4,370.0 116.4,371.7 117.4,372.4 118.4,372.6 119.4,372.9 120.4,372.9 121.4,373.0 122.4,373.0 123.4,373.0 124.4,373.0 125.4,373.0 126.4,373.0 127.4,373.0 128.4,373.0 129.4,373.0 130.4,373.0 131.4,373.0 132.4,373.0 133.4,373.0 134.4,373.0 135.4,373.0 136.4,373.0 137.4,373.0 138.4,373.0 139.4,373.0 140.4,373.0 141.4,373.0 142.4,373.0 143.4,373.0 144.4,373.0 145.4,373.0 146.4,373.0 147.4,373.0 148.4,373.0 149.4,373.0 150.4,373.0 151.4,373.0 152.4,373.0 153.4,373.0 154.4,373.0 155.4,373.0 156.4,373.0 157.4,373.0 158.4,373.0 159.4,373.0 160.4,373.0 161.4,373.0 162.4,373.0 163.4,373.0 164.4,373.0 165.4,373.0 166.4,373.0 167.4,373.0 168.4,373.0 169.4,373.0 170.4,373.0 171.4,373.0 172.4,373.0 173.4,373.0 174.3,373.0" fill="none" stroke="#1c1c1c" stroke-width="1.0" stroke-dasharray="2.5,3.0"/>
<polyline points="86.4,373.0 87.4,373.0 88.4,373.0 89.4,373.0 90.4,373.0 91.4,373.0 92.4,373.0 93.4,373.0 94.4,373.0 95.4,373.0 96.4,373.0 97.4,372.9 98.4,372.6 99.4,371.8 100.4,372.1 101.4,370.1 102.4,368.3 103.4,364.2 104.4,351.0 105.4,346.5 106.4,327.6 107.4,317.9 108.4,307.2 109.4,299.1 110.7,284.4 111.4,288.7 112.4,302.1 113.4,314.6 114.4,316.1 115.4,331.6 116.4,346.8 117.4,356.4 118.4,361.3 119.4,367.8 120.4,369.8 121.4,371.4 122.4,372.3 123.4,372.6 124.4,372.8 125.4,372.9 126.4,372.9 127.4,373.0 128.4,373.0 129.4,373.0 130.4,373.0 131.4,373.0 132.4,373.0 133.4,373.0 134.4,373.0 135.4,373.0 136.4,373.0 137.4,373.0 138.4,373.0 139.4,373.0 140.4,373.0 141.4,373.0 142.4,373.0 143.4,373.0 144.4,373.0 145.4,373.0 146.4,373.0 147.4,373.0 148.4,373.0 149.4,373.0 150.4,373.0 151.4,373.0 152.4,373.0 153.4,373.0 154.4,373.0 155.4,373.0 156.4,373.0 157.4,373.0 158.4,373.0 159.4,373.0 160.4,373.0 161.4,373.0 162.4,373.0 163.4,373.0 164.4,373.0 165.4,373.0 166.4,373.0 167.4,373.0 168.4,373.0 169.4,373.0 170.4,373.0 171.4,373.0 172.4,373.0 173.4,373.0 174.3,373.0" fill="none" stroke="#1a1a1a" stroke-width="0.7"/>
<line x1="86.4" y1="372.7" x2="174.8" y2="372.7" stroke="#111" stroke-width="1.6"/>
<line x1="86.4" y1="278.7" x2="86.4" y2="373.0" stroke="#aaa" stroke-width="1"/>
<line x1="86.4" y1="279.7" x2="86.4" y2="373.0" stroke="#333" stroke-width="1.1" stroke-dasharray="1.6,2.9"/>
<line x1="84.2" y1="373.0" x2="86.4" y2="373.0" stroke="#444" stroke-width="0.9"/>
<line x1="84.2" y1="355.3" x2="86.4" y2="355.3" stroke="#444" stroke-width="0.9"/>
<line x1="84.2" y1="337.7" x2="86.4" y2="337.7" stroke="#444" stroke-width="0.9"/>
<line x1="84.2" y1="320.0" x2="86.4" y2="320.0" stroke="#444" stroke-width="0.9"/>
<line x1="84.2" y1="302.4" x2="86.4" y2="302.4" stroke="#444" stroke-width="0.9"/>
<line x1="84.2" y1="284.7" x2="86.4" y2="284.7" stroke="#444" stroke-width="0.9"/>
<text x="81.8" y="374.7" font-size="4.7" fill="#2e2e2e" stroke="#2e2e2e" stroke-width="0.15" text-anchor="end" font-family='Liberation Sans', sans-serif>0</text>
<text x="81.8" y="357.0" font-size="4.7" fill="#2e2e2e" stroke="#2e2e2e" stroke-width="0.15" text-anchor="end" font-family='Liberation Sans', sans-serif>20</text>
<text x="81.8" y="339.4" font-size="4.7" fill="#2e2e2e" stroke="#2e2e2e" stroke-width="0.15" text-anchor="end" font-family='Liberation Sans', sans-serif>40</text>
<text x="81.8" y="321.7" font-size="4.7" fill="#2e2e2e" stroke="#2e2e2e" stroke-width="0.15" text-anchor="end" font-family='Liberation Sans', sans-serif>60</text>
<text x="81.8" y="304.1" font-size="4.7" fill="#2e2e2e" stroke="#2e2e2e" stroke-width="0.15" text-anchor="end" font-family='Liberation Sans', sans-serif>80</text>
<text x="81.8" y="286.4" font-size="4.7" fill="#2e2e2e" stroke="#2e2e2e" stroke-width="0.15" text-anchor="end" font-family='Liberation Sans', sans-serif>100</text>
<path d="M177.0,278.7 H258.7 V374.4" fill="none" stroke="#666" stroke-width="1"/>
<polygon points="177.0,374.4 177.0,330.7 178.0,328.0 178.8,325.2 179.2,322.3 180.0,320.0 179.5,317.3 180.2,314.9 180.6,312.5 181.5,310.2 181.3,307.5 181.3,305.2 182.0,302.7 183.0,300.2 182.9,297.9 183.4,295.6 184.2,292.7 184.8,290.0 186.5,286.5 186.9,289.0 188.3,291.4 188.4,293.9 189.5,296.4 189.8,299.0 189.7,301.3 189.5,303.6 190.6,306.2 190.2,308.8 191.1,311.1 191.7,313.9 192.1,316.5 192.5,319.5 192.8,321.8 193.3,324.8 193.0,326.9 193.7,329.8 193.9,332.1 193.8,334.6 194.6,337.0 194.3,339.8 195.2,342.3 195.4,344.8 195.8,347.1 196.1,349.7 196.5,352.0 196.8,354.6 197.0,357.4 198.4,360.3 198.9,363.0 200.8,365.4 201.7,367.9 204.4,369.2 207.3,370.7 208.8,374.4 258.7,374.4" fill="#3c3c3c" stroke="#141414" stroke-width="0.9" stroke-linejoin="round"/>
<polyline points="177.0,374.4 178.0,374.4 179.0,374.4 180.0,374.4 181.0,374.4 182.0,374.4 183.0,374.4 184.0,374.4 185.0,374.4 186.0,374.3 187.0,374.2 188.0,373.9 189.0,373.8 190.0,373.4 191.0,372.5 192.0,371.3 193.0,367.2 194.0,366.6 195.0,360.2 196.0,356.9 197.0,346.5 198.0,344.0 199.0,331.9 200.0,321.6 201.0,312.7 202.0,306.9 203.0,301.8 204.0,290.2 205.0,286.0 206.0,290.4 207.0,299.4 208.0,309.6 209.0,315.5 210.0,325.0 211.0,334.6 212.0,341.6 213.0,346.6 214.0,359.6 215.0,364.7 216.0,364.6 217.0,368.8 218.0,371.9 219.0,373.0 220.0,373.2 221.0,373.7 222.0,374.1 223.0,374.2 224.0,374.3 225.0,374.4 226.0,374.4 227.0,374.4 228.0,374.4 229.0,374.4 230.0,374.4 231.0,374.4 232.0,374.4 233.0,374.4 234.0,374.4 235.0,374.4 236.0,374.4 237.0,374.4 238.0,374.4 239.0,374.4 240.0,374.4 241.0,374.4 242.0,374.4 243.0,374.4 244.0,374.4 245.0,374.4 246.0,374.4 247.0,374.4 248.0,374.4 249.0,374.4 250.0,374.4 251.0,374.4 252.0,374.4 253.0,374.4 254.0,374.4 255.0,374.4 256.0,374.4 257.0,374.4 258.0,374.4 258.7,374.4" fill="none" stroke="#1c1c1c" stroke-width="1.0" stroke-dasharray="2.5,3.0"/>
<polyline points="177.0,374.4 178.0,374.4 179.0,374.4 180.0,374.4 181.0,374.4 182.0,374.4 183.0,374.4 184.0,374.4 185.0,374.3 186.0,374.3 187.0,374.2 188.0,374.1 189.0,373.8 190.0,372.4 191.0,370.6 192.0,371.0 193.0,368.1 194.0,365.3 195.0,357.5 196.0,352.0 197.0,344.3 198.0,334.1 199.0,330.2 200.0,321.6 201.0,308.5 202.0,300.0 203.0,290.1 204.0,285.8 205.0,291.4 206.0,296.5 207.0,313.5 208.0,314.8 209.0,328.6 210.0,341.2 211.0,347.9 212.0,348.3 213.0,359.3 214.0,363.1 215.0,367.1 216.0,370.0 217.0,371.0 218.0,372.5 219.0,373.5 220.0,373.8 221.0,374.0 222.0,374.3 223.0,374.3 224.0,374.4 225.0,374.4 226.0,374.4 227.0,374.4 228.0,374.4 229.0,374.4 230.0,374.4 231.0,374.4 232.0,374.4 233.0,374.4 234.0,374.4 235.0,374.4 236.0,374.4 237.0,374.4 238.0,374.4 239.0,374.4 240.0,374.4 241.0,374.4 242.0,374.4 243.0,374.4 244.0,374.4 245.0,374.4 246.0,374.4 247.0,374.4 248.0,374.4 249.0,374.4 250.0,374.4 251.0,374.4 252.0,374.4 253.0,374.4 254.0,374.4 255.0,374.4 256.0,374.4 257.0,374.4 258.0,374.4 258.7,374.4" fill="none" stroke="#1a1a1a" stroke-width="0.7"/>
<line x1="177.0" y1="374.1" x2="259.2" y2="374.1" stroke="#111" stroke-width="1.6"/>
<line x1="177.0" y1="278.7" x2="177.0" y2="374.4" stroke="#aaa" stroke-width="1"/>
<line x1="177.0" y1="279.7" x2="177.0" y2="374.4" stroke="#333" stroke-width="1.1" stroke-dasharray="1.6,2.9"/>
<line x1="174.8" y1="374.4" x2="177.0" y2="374.4" stroke="#444" stroke-width="0.9"/>
<line x1="174.8" y1="356.5" x2="177.0" y2="356.5" stroke="#444" stroke-width="0.9"/>
<line x1="174.8" y1="338.5" x2="177.0" y2="338.5" stroke="#444" stroke-width="0.9"/>
<line x1="174.8" y1="320.6" x2="177.0" y2="320.6" stroke="#444" stroke-width="0.9"/>
<line x1="174.8" y1="302.6" x2="177.0" y2="302.6" stroke="#444" stroke-width="0.9"/>
<line x1="174.8" y1="284.7" x2="177.0" y2="284.7" stroke="#444" stroke-width="0.9"/>
<path d="M261.8,280.3 H341.0 V374.3" fill="none" stroke="#666" stroke-width="1"/>
<polygon points="261.8,374.3 261.8,339.8 262.4,337.1 263.9,334.1 264.4,331.6 264.5,329.5 265.2,327.5 264.8,325.2 265.3,322.9 265.8,320.0 266.2,317.2 266.7,314.5 267.1,311.9 267.9,308.7 268.1,306.1 268.6,303.5 269.8,300.5 270.2,297.6 270.9,295.4 270.9,292.9 271.9,290.6 273.0,286.4 273.1,289.1 274.0,291.8 274.2,294.8 274.0,297.2 275.0,299.2 275.2,301.7 274.5,304.0 275.1,306.1 274.9,308.3 275.0,310.4 275.9,313.0 275.4,315.0 276.1,317.3 276.5,319.6 276.1,321.9 276.3,324.2 277.2,326.3 277.2,328.5 277.9,330.9 277.3,333.6 278.4,336.3 278.5,338.7 278.4,341.2 278.4,343.9 279.0,346.4 279.3,348.8 279.4,351.1 279.4,353.8 279.6,356.7 280.6,359.2 280.8,362.2 281.5,365.0 282.9,367.8 284.4,369.5 285.7,371.3 287.6,372.2 289.9,372.7 291.4,374.3 341.0,374.3" fill="#3c3c3c" stroke="#141414" stroke-width="0.9" stroke-linejoin="round"/>
<polyline points="261.8,374.3 262.8,374.3 263.8,374.3 264.8,374.3 265.8,374.3 266.8,374.3 267.8,374.3 268.8,374.3 269.8,374.3 270.8,374.2 271.8,374.1 272.8,373.7 273.8,373.5 274.8,372.7 275.8,371.6 276.8,368.7 277.8,367.1 278.8,363.9 279.8,357.1 280.8,350.8 281.8,345.1 282.8,337.3 283.8,325.0 284.8,319.0 285.8,308.2 286.8,299.8 287.8,291.4 288.5,287.8 289.8,300.0 290.8,311.5 291.8,323.8 292.8,341.1 293.8,348.4 294.8,354.7 295.8,367.4 296.8,370.5 297.8,372.6 298.8,372.6 299.8,373.7 300.8,374.1 301.8,374.2 302.8,374.3 303.8,374.3 304.8,374.3 305.8,374.3 306.8,374.3 307.8,374.3 308.8,374.3 309.8,374.3 310.8,374.3 311.8,374.3 312.8,374.3 313.8,374.3 314.8,374.3 315.8,374.3 316.8,374.3 317.8,374.3 318.8,374.3 319.8,374.3 320.8,374.3 321.8,374.3 322.8,374.3 323.8,374.3 324.8,374.3 325.8,374.3 326.8,374.3 327.8,374.3 328.8,374.3 329.8,374.3 330.8,374.3 331.8,374.3 332.8,374.3 333.8,374.3 334.8,374.3 335.8,374.3 336.8,374.3 337.8,374.3 338.8,374.3 339.8,374.3 340.8,374.3 341.0,374.3" fill="none" stroke="#1c1c1c" stroke-width="1.0" stroke-dasharray="2.5,3.0"/>
<polyline points="261.8,374.3 262.8,374.3 263.8,374.3 264.8,374.3 265.8,374.3 266.8,374.3 267.8,374.3 268.8,374.3 269.8,374.3 270.8,374.3 271.8,374.3 272.8,374.2 273.8,374.1 274.8,374.0 275.8,373.9 276.8,373.6 277.8,372.8 278.8,371.7 279.8,370.1 280.8,369.2 281.8,367.0 282.8,363.7 283.8,359.7 284.8,353.4 285.8,347.9 286.8,342.4 287.8,338.3 288.8,328.1 289.8,321.8 290.8,312.2 291.8,300.8 292.8,294.6 293.8,287.6 294.4,286.4 295.8,295.5 296.8,313.1 297.8,332.4 298.8,345.1 299.8,342.7 300.8,361.4 301.8,367.9 302.8,370.3 303.8,372.1 304.8,373.4 305.8,373.4 306.8,374.1 307.8,374.2 308.8,374.3 309.8,374.3 310.8,374.3 311.8,374.3 312.8,374.3 313.8,374.3 314.8,374.3 315.8,374.3 316.8,374.3 317.8,374.3 318.8,374.3 319.8,374.3 320.8,374.3 321.8,374.3 322.8,374.3 323.8,374.3 324.8,374.3 325.8,374.3 326.8,374.3 327.8,374.3 328.8,374.3 329.8,374.3 330.8,374.3 331.8,374.3 332.8,374.3 333.8,374.3 334.8,374.3 335.8,374.3 336.8,374.3 337.8,374.3 338.8,374.3 339.8,374.3 340.8,374.3 341.0,374.3" fill="none" stroke="#1a1a1a" stroke-width="0.7"/>
<line x1="261.8" y1="374.0" x2="341.5" y2="374.0" stroke="#111" stroke-width="1.6"/>
<line x1="261.8" y1="280.3" x2="261.8" y2="374.3" stroke="#aaa" stroke-width="1"/>
<line x1="261.8" y1="281.3" x2="261.8" y2="374.3" stroke="#333" stroke-width="1.1" stroke-dasharray="1.6,2.9"/>
<line x1="259.6" y1="374.3" x2="261.8" y2="374.3" stroke="#444" stroke-width="0.9"/>
<line x1="259.6" y1="356.7" x2="261.8" y2="356.7" stroke="#444" stroke-width="0.9"/>
<line x1="259.6" y1="339.1" x2="261.8" y2="339.1" stroke="#444" stroke-width="0.9"/>
<line x1="259.6" y1="321.5" x2="261.8" y2="321.5" stroke="#444" stroke-width="0.9"/>
<line x1="259.6" y1="303.9" x2="261.8" y2="303.9" stroke="#444" stroke-width="0.9"/>
<line x1="259.6" y1="286.3" x2="261.8" y2="286.3" stroke="#444" stroke-width="0.9"/>
<path d="M344.1,280.3 H425.6 V374.8" fill="none" stroke="#666" stroke-width="1"/>
<polygon points="344.1,374.8 344.1,332.7 344.8,330.2 345.8,327.9 346.2,325.7 346.7,323.1 347.5,320.9 347.0,318.1 347.6,315.9 348.4,313.6 348.1,310.8 349.2,308.7 349.0,306.1 349.4,303.1 350.2,300.7 350.4,297.6 350.9,295.4 351.8,293.4 353.1,291.1 353.5,288.5 354.9,291.7 355.3,294.8 355.4,297.8 356.6,300.6 356.7,303.3 356.9,305.7 358.0,308.4 357.3,310.4 358.1,313.1 358.1,315.5 358.7,317.6 359.5,320.1 359.8,322.8 360.0,324.9 359.9,327.6 360.4,330.0 360.9,332.7 360.7,335.2 361.2,337.6 361.3,340.4 362.4,342.8 362.4,345.4 362.2,347.6 362.5,349.7 363.0,352.3 363.0,354.4 363.8,356.6 363.9,359.3 365.8,362.4 365.9,365.0 367.3,367.3 368.7,369.9 371.2,371.3 374.3,372.7 375.8,374.8 425.6,374.8" fill="#3c3c3c" stroke="#141414" stroke-width="0.9" stroke-linejoin="round"/>
<polyline points="344.1,374.8 345.1,374.8 346.1,374.8 347.1,374.8 348.1,374.8 349.1,374.8 350.1,374.8 351.1,374.8 352.1,374.8 353.1,374.6 354.1,374.6 355.1,374.5 356.1,373.8 357.1,373.2 358.1,372.8 359.1,370.4 360.1,368.8 361.1,367.1 362.1,362.3 363.1,354.1 364.1,348.0 365.1,341.9 366.1,332.5 367.1,330.2 368.1,319.5 369.1,311.9 370.1,302.0 371.1,291.7 372.0,288.0 373.1,296.1 374.1,304.4 375.1,307.7 376.1,321.1 377.1,331.1 378.1,341.4 379.1,344.0 380.1,350.8 381.1,360.6 382.1,364.8 383.1,368.0 384.1,370.8 385.1,371.7 386.1,372.3 387.1,373.6 388.1,374.3 389.1,374.4 390.1,374.6 391.1,374.7 392.1,374.8 393.1,374.8 394.1,374.8 395.1,374.8 396.1,374.8 397.1,374.8 398.1,374.8 399.1,374.8 400.1,374.8 401.1,374.8 402.1,374.8 403.1,374.8 404.1,374.8 405.1,374.8 406.1,374.8 407.1,374.8 408.1,374.8 409.1,374.8 410.1,374.8 411.1,374.8 412.1,374.8 413.1,374.8 414.1,374.8 415.1,374.8 416.1,374.8 417.1,374.8 418.1,374.8 419.1,374.8 420.1,374.8 421.1,374.8 422.1,374.8 423.1,374.8 424.1,374.8 425.1,374.8 425.6,374.8" fill="none" stroke="#1c1c1c" stroke-width="1.0" stroke-dasharray="2.5,3.0"/>
<polyline points="344.1,374.8 345.1,374.8 346.1,374.8 347.1,374.8 348.1,374.8 349.1,374.8 350.1,374.8 351.1,374.8 352.1,374.7 353.1,374.7 354.1,374.6 355.1,374.1 356.1,373.9 357.1,373.5 358.1,372.4 359.1,369.4 360.1,366.7 361.1,363.6 362.1,355.8 363.1,356.9 364.1,343.8 365.1,332.5 366.1,328.2 367.1,320.2 368.1,312.6 369.1,301.4 370.1,294.2 371.0,287.8 372.1,294.3 373.1,301.4 374.1,312.6 375.1,320.3 376.1,326.4 377.1,335.0 378.1,343.9 379.1,350.9 380.1,361.7 381.1,367.0 382.1,366.5 383.1,370.3 384.1,372.9 385.1,373.9 386.1,374.0 387.1,374.3 388.1,374.6 389.1,374.7 390.1,374.8 391.1,374.8 392.1,374.8 393.1,374.8 394.1,374.8 395.1,374.8 396.1,374.8 397.1,374.8 398.1,374.8 399.1,374.8 400.1,374.8 401.1,374.8 402.1,374.8 403.1,374.8 404.1,374.8 405.1,374.8 406.1,374.8 407.1,374.8 408.1,374.8 409.1,374.8 410.1,374.8 411.1,374.8 412.1,374.8 413.1,374.8 414.1,374.8 415.1,374.8 416.1,374.8 417.1,374.8 418.1,374.8 419.1,374.8 420.1,374.8 421.1,374.8 422.1,374.8 423.1,374.8 424.1,374.8 425.1,374.8 425.6,374.8" fill="none" stroke="#1a1a1a" stroke-width="0.7"/>
<line x1="344.1" y1="374.5" x2="426.1" y2="374.5" stroke="#111" stroke-width="1.6"/>
<line x1="344.1" y1="280.3" x2="344.1" y2="374.8" stroke="#aaa" stroke-width="1"/>
<line x1="344.1" y1="281.3" x2="344.1" y2="374.8" stroke="#333" stroke-width="1.1" stroke-dasharray="1.6,2.9"/>
<line x1="341.9" y1="374.8" x2="344.1" y2="374.8" stroke="#444" stroke-width="0.9"/>
<line x1="341.9" y1="357.1" x2="344.1" y2="357.1" stroke="#444" stroke-width="0.9"/>
<line x1="341.9" y1="339.4" x2="344.1" y2="339.4" stroke="#444" stroke-width="0.9"/>
<line x1="341.9" y1="321.7" x2="344.1" y2="321.7" stroke="#444" stroke-width="0.9"/>
<line x1="341.9" y1="304.0" x2="344.1" y2="304.0" stroke="#444" stroke-width="0.9"/>
<line x1="341.9" y1="286.3" x2="344.1" y2="286.3" stroke="#444" stroke-width="0.9"/>
<path d="M430.1,283.8 H514.7 V375.2" fill="none" stroke="#666" stroke-width="1"/>
<polygon points="430.1,375.2 430.1,331.9 431.3,329.5 430.6,327.2 431.6,325.4 432.2,323.0 431.9,320.7 432.4,318.3 432.6,315.8 432.5,313.1 433.3,310.9 434.2,308.2 434.8,305.4 434.7,302.5 435.5,300.2 436.1,298.2 437.1,295.9 437.6,293.8 438.0,291.4 438.2,289.1 438.9,291.3 439.1,293.7 439.2,296.2 439.4,298.2 440.1,300.8 440.0,303.0 440.5,305.6 440.3,308.1 440.4,310.6 440.7,312.9 440.6,315.2 441.8,317.5 441.9,319.8 441.7,322.1 442.2,324.3 441.9,326.8 442.5,329.0 442.3,330.9 442.7,333.3 443.0,335.6 442.6,337.6 443.5,339.9 443.1,342.6 443.8,344.6 444.6,347.0 444.1,349.3 444.5,351.5 444.7,353.8 445.2,355.8 445.3,358.4 445.8,361.5 446.6,364.2 447.2,367.1 448.8,369.8 451.6,372.6 455.1,374.0 456.6,375.2 514.7,375.2" fill="#3c3c3c" stroke="#141414" stroke-width="0.9" stroke-linejoin="round"/>
<polyline points="430.1,375.2 431.1,375.2 432.1,375.2 433.1,375.2 434.1,375.2 435.1,375.2 436.1,375.2 437.1,375.2 438.1,375.2 439.1,375.2 440.1,375.2 441.1,375.1 442.1,375.1 443.1,374.8 444.1,374.8 445.1,374.5 446.1,373.4 447.1,372.3 448.1,368.2 449.1,365.0 450.1,365.0 451.1,354.2 452.1,347.3 453.1,335.2 454.1,333.8 455.1,314.9 456.1,308.0 457.1,301.3 458.1,292.2 458.6,291.2 459.1,293.4 460.1,303.1 461.1,313.1 462.1,318.3 463.1,333.4 464.1,336.5 465.1,352.2 466.1,357.0 467.1,362.5 468.1,364.7 469.1,371.8 470.1,372.7 471.1,373.5 472.1,374.3 473.1,374.7 474.1,375.0 475.1,375.1 476.1,375.2 477.1,375.2 478.1,375.2 479.1,375.2 480.1,375.2 481.1,375.2 482.1,375.2 483.1,375.2 484.1,375.2 485.1,375.2 486.1,375.2 487.1,375.2 488.1,375.2 489.1,375.2 490.1,375.2 491.1,375.2 492.1,375.2 493.1,375.2 494.1,375.2 495.1,375.2 496.1,375.2 497.1,375.2 498.1,375.2 499.1,375.2 500.1,375.2 501.1,375.2 502.1,375.2 503.1,375.2 504.1,375.2 505.1,375.2 506.1,375.2 507.1,375.2 508.1,375.2 509.1,375.2 510.1,375.2 511.1,375.2 512.1,375.2 513.1,375.2 514.1,375.2 514.7,375.2" fill="none" stroke="#1c1c1c" stroke-width="1.0" stroke-dasharray="2.5,3.0"/>
<polyline points="430.1,375.2 431.1,375.2 432.1,375.2 433.1,375.2 434.1,375.2 435.1,375.2 436.1,375.2 437.1,375.2 438.1,375.2 439.1,375.2 440.1,375.2 441.1,375.2 442.1,375.2 443.1,375.2 444.1,375.2 445.1,375.2 446.1,375.2 447.1,375.2 448.1,375.1 449.1,375.1 450.1,375.0 451.1,374.7 452.1,373.7 453.1,373.0 454.1,371.7 455.1,365.6 456.1,364.7 457.1,355.7 458.1,351.9 459.1,342.1 460.1,330.8 461.1,314.5 462.1,305.8 463.1,294.3 463.8,289.8 465.1,296.0 466.1,311.6 467.1,319.8 468.1,335.6 469.1,343.4 470.1,354.6 471.1,358.9 472.1,366.1 473.1,371.0 474.1,371.3 475.1,374.3 476.1,374.3 477.1,375.0 478.1,375.1 479.1,375.1 480.1,375.2 481.1,375.2 482.1,375.2 483.1,375.2 484.1,375.2 485.1,375.2 486.1,375.2 487.1,375.2 488.1,375.2 489.1,375.2 490.1,375.2 491.1,375.2 492.1,375.2 493.1,375.2 494.1,375.2 495.1,375.2 496.1,375.2 497.1,375.2 498.1,375.2 499.1,375.2 500.1,375.2 501.1,375.2 502.1,375.2 503.1,375.2 504.1,375.2 505.1,375.2 506.1,375.2 507.1,375.2 508.1,375.2 509.1,375.2 510.1,375.2 511.1,375.2 512.1,375.2 513.1,375.2 514.1,375.2 514.7,375.2" fill="none" stroke="#1a1a1a" stroke-width="0.7"/>
<line x1="430.1" y1="374.9" x2="515.2" y2="374.9" stroke="#111" stroke-width="1.6"/>
<line x1="430.1" y1="283.8" x2="430.1" y2="375.2" stroke="#aaa" stroke-width="1"/>
<line x1="430.1" y1="284.8" x2="430.1" y2="375.2" stroke="#333" stroke-width="1.1" stroke-dasharray="1.6,2.9"/>
<line x1="427.9" y1="375.2" x2="430.1" y2="375.2" stroke="#444" stroke-width="0.9"/>
<line x1="427.9" y1="358.1" x2="430.1" y2="358.1" stroke="#444" stroke-width="0.9"/>
<line x1="427.9" y1="341.0" x2="430.1" y2="341.0" stroke="#444" stroke-width="0.9"/>
<line x1="427.9" y1="324.0" x2="430.1" y2="324.0" stroke="#444" stroke-width="0.9"/>
<line x1="427.9" y1="306.9" x2="430.1" y2="306.9" stroke="#444" stroke-width="0.9"/>
<line x1="427.9" y1="289.8" x2="430.1" y2="289.8" stroke="#444" stroke-width="0.9"/>
<path d="M90.6,406.8 H173.4 V499.0" fill="none" stroke="#666" stroke-width="1"/>
<polygon points="90.6,499.0 90.6,494.7 91.6,494.7 92.3,491.8 92.5,488.6 92.5,486.0 92.9,483.5 93.0,480.8 92.9,478.1 93.6,475.7 93.7,473.0 94.0,470.6 93.9,468.5 94.2,465.8 94.7,463.7 95.3,461.4 95.1,459.1 95.5,456.8 95.5,454.4 95.7,452.2 95.8,450.0 96.4,447.9 96.2,445.6 96.5,443.4 96.8,440.8 97.1,438.3 96.8,435.7 97.3,432.8 97.3,430.4 97.3,427.4 97.4,424.6 97.7,421.7 98.7,419.4 98.4,416.6 99.1,414.4 100.1,412.2 100.9,414.7 100.5,417.3 101.6,420.0 101.4,422.6 101.8,424.8 101.7,427.3 102.5,429.6 102.9,431.8 103.3,434.6 103.5,436.9 104.4,439.2 104.2,441.7 104.7,444.5 105.3,446.9 105.3,449.6 105.9,452.1 106.9,455.3 107.3,458.2 107.4,460.5 108.1,462.8 108.8,465.3 108.9,467.8 109.1,470.5 109.5,473.7 110.3,476.4 110.5,478.6 111.4,481.3 110.9,483.4 111.8,486.0 111.8,488.6 113.2,491.1 113.7,493.8 116.5,496.8 120.2,498.1 121.7,499.0 173.4,499.0" fill="#3c3c3c" stroke="#141414" stroke-width="0.9" stroke-linejoin="round"/>
<polyline points="90.6,495.5 89.0,495.5 89.6,492.4 89.4,489.6 89.9,486.8 90.1,484.2 90.4,481.4 90.2,478.9 90.7,476.3 91.1,473.8 90.9,471.6 91.2,469.0 91.7,466.8 91.6,464.6 92.2,462.3 92.5,459.9 92.6,457.6 92.8,455.4 93.0,453.2 93.5,451.0 93.1,448.6 93.7,446.4 93.9,444.2 93.9,441.7 94.6,438.9 94.1,436.4 94.2,434.0 94.7,431.2 95.3,428.4 95.3,425.4 95.1,422.5 95.3,419.9 96.0,417.6 96.5,415.2 97.5,413.0 97.6,415.7 98.4,418.3 99.0,420.8 99.6,423.0 99.5,425.7 99.9,427.9 99.9,430.4 100.2,432.7 100.3,435.1 100.5,437.7 100.8,440.1 101.6,442.5 102.3,445.3 102.7,447.7 102.9,450.4 103.3,452.9 104.0,455.9 104.7,459.0 104.7,461.3 105.3,463.8 105.7,466.1 106.3,468.6 106.8,471.3 107.0,474.5 107.7,477.2 107.7,479.6 108.2,481.9 108.3,484.2 109.2,486.8 109.3,489.3 110.4,492.0 111.1,494.6 113.9,497.6 117.6,498.9 119.1,499.0 173.4,499.0" fill="none" stroke="#1c1c1c" stroke-width="1.0" stroke-dasharray="2.5,3.0"/>
<line x1="90.6" y1="498.7" x2="173.9" y2="498.7" stroke="#111" stroke-width="1.6"/>
<line x1="90.6" y1="406.8" x2="90.6" y2="499.0" stroke="#aaa" stroke-width="1"/>
<line x1="90.6" y1="407.8" x2="90.6" y2="499.0" stroke="#333" stroke-width="1.1" stroke-dasharray="1.6,2.9"/>
<line x1="88.4" y1="499.0" x2="90.6" y2="499.0" stroke="#444" stroke-width="0.9"/>
<line x1="88.4" y1="481.8" x2="90.6" y2="481.8" stroke="#444" stroke-width="0.9"/>
<line x1="88.4" y1="464.5" x2="90.6" y2="464.5" stroke="#444" stroke-width="0.9"/>
<line x1="88.4" y1="447.3" x2="90.6" y2="447.3" stroke="#444" stroke-width="0.9"/>
<line x1="88.4" y1="430.0" x2="90.6" y2="430.0" stroke="#444" stroke-width="0.9"/>
<line x1="88.4" y1="412.8" x2="90.6" y2="412.8" stroke="#444" stroke-width="0.9"/>
<text x="86.0" y="500.7" font-size="4.7" fill="#2e2e2e" stroke="#2e2e2e" stroke-width="0.15" text-anchor="end" font-family='Liberation Sans', sans-serif>0</text>
<text x="86.0" y="483.5" font-size="4.7" fill="#2e2e2e" stroke="#2e2e2e" stroke-width="0.15" text-anchor="end" font-family='Liberation Sans', sans-serif>20</text>
<text x="86.0" y="466.2" font-size="4.7" fill="#2e2e2e" stroke="#2e2e2e" stroke-width="0.15" text-anchor="end" font-family='Liberation Sans', sans-serif>40</text>
<text x="86.0" y="449.0" font-size="4.7" fill="#2e2e2e" stroke="#2e2e2e" stroke-width="0.15" text-anchor="end" font-family='Liberation Sans', sans-serif>60</text>
<text x="86.0" y="431.7" font-size="4.7" fill="#2e2e2e" stroke="#2e2e2e" stroke-width="0.15" text-anchor="end" font-family='Liberation Sans', sans-serif>80</text>
<text x="86.0" y="414.5" font-size="4.7" fill="#2e2e2e" stroke="#2e2e2e" stroke-width="0.15" text-anchor="end" font-family='Liberation Sans', sans-serif>100</text>
<path d="M177.1,405.9 H258.7 V498.6" fill="none" stroke="#666" stroke-width="1"/>
<polygon points="177.1,498.6 177.1,494.2 178.0,494.2 178.0,491.1 178.5,488.2 178.9,485.5 179.0,482.7 179.4,480.3 179.4,477.7 179.3,475.2 180.1,472.4 180.3,469.9 180.4,467.6 180.2,465.4 181.2,463.1 181.4,460.9 181.5,458.4 181.7,456.1 182.4,454.0 181.7,451.4 182.8,449.4 181.9,447.0 182.5,444.8 182.9,442.6 182.8,439.9 183.3,437.5 183.6,434.9 182.9,432.0 183.7,429.5 184.3,426.6 183.8,423.5 184.1,420.7 185.0,418.5 185.2,415.9 185.5,413.3 186.5,411.1 187.3,413.8 187.4,416.5 187.9,419.0 188.3,421.6 188.8,423.7 188.6,426.1 188.8,428.6 188.7,431.0 190.0,433.4 189.3,435.9 190.2,438.6 190.4,440.9 190.6,443.5 190.9,446.3 191.5,448.9 192.0,451.4 193.1,454.5 193.3,457.5 193.6,460.0 194.1,462.4 195.0,464.6 194.8,467.1 194.9,469.2 195.4,471.6 195.6,473.7 196.1,475.9 197.0,478.1 196.3,480.4 197.4,482.9 197.5,485.5 197.9,488.2 198.7,490.7 199.3,493.4 202.0,496.4 205.5,497.7 207.0,498.6 258.7,498.6" fill="#3c3c3c" stroke="#141414" stroke-width="0.9" stroke-linejoin="round"/>
<polyline points="177.1,495.0 175.4,495.0 175.8,491.9 176.1,489.3 176.3,486.3 177.0,483.6 176.8,480.9 176.9,478.2 177.3,475.6 177.5,473.2 178.0,470.7 177.6,468.4 178.5,466.1 178.9,463.9 178.4,461.6 178.9,459.2 178.7,457.0 179.3,454.7 179.9,452.4 179.6,450.1 180.0,448.0 180.1,445.7 180.3,443.4 180.7,440.8 180.2,438.2 180.3,435.5 181.0,432.9 181.1,430.3 181.6,427.3 181.4,424.5 181.5,421.5 182.0,419.0 182.8,416.7 182.9,414.1 183.9,411.9 184.5,414.7 185.3,417.1 185.3,419.8 185.1,422.1 186.2,424.7 185.5,427.1 186.2,429.4 186.9,431.9 187.1,434.4 186.9,436.8 187.1,439.3 187.8,441.7 188.4,444.4 188.9,447.1 188.5,449.6 189.4,452.2 190.4,455.2 190.7,458.3 190.9,460.5 191.3,463.0 192.0,465.4 192.2,467.9 192.2,470.3 192.4,472.3 192.7,474.5 193.5,476.7 193.6,478.9 193.8,481.3 194.7,483.9 194.9,486.3 195.5,489.0 196.2,491.5 196.7,494.2 199.4,497.2 202.9,498.5 204.4,498.6 258.7,498.6" fill="none" stroke="#1c1c1c" stroke-width="1.0" stroke-dasharray="2.5,3.0"/>
<line x1="177.1" y1="498.3" x2="259.2" y2="498.3" stroke="#111" stroke-width="1.6"/>
<line x1="177.1" y1="405.9" x2="177.1" y2="498.6" stroke="#aaa" stroke-width="1"/>
<line x1="177.1" y1="406.9" x2="177.1" y2="498.6" stroke="#333" stroke-width="1.1" stroke-dasharray="1.6,2.9"/>
<line x1="174.9" y1="498.6" x2="177.1" y2="498.6" stroke="#444" stroke-width="0.9"/>
<line x1="174.9" y1="481.3" x2="177.1" y2="481.3" stroke="#444" stroke-width="0.9"/>
<line x1="174.9" y1="463.9" x2="177.1" y2="463.9" stroke="#444" stroke-width="0.9"/>
<line x1="174.9" y1="446.6" x2="177.1" y2="446.6" stroke="#444" stroke-width="0.9"/>
<line x1="174.9" y1="429.2" x2="177.1" y2="429.2" stroke="#444" stroke-width="0.9"/>
<line x1="174.9" y1="411.9" x2="177.1" y2="411.9" stroke="#444" stroke-width="0.9"/>
<path d="M260.8,406.0 H342.7 V498.6" fill="none" stroke="#666" stroke-width="1"/>
<polygon points="260.8,498.6 260.8,494.2 262.0,494.2 262.6,491.2 262.1,488.3 262.9,485.5 263.5,482.8 263.8,480.3 263.6,477.7 263.9,475.0 264.1,472.4 264.7,470.1 264.6,467.4 264.5,465.2 265.5,463.2 265.1,460.8 265.5,458.4 265.2,456.3 265.4,454.0 266.3,451.8 266.6,449.3 266.0,447.0 267.1,444.9 266.9,442.6 266.5,440.1 266.7,437.1 267.9,434.9 267.4,432.2 267.7,429.5 267.5,426.4 268.3,423.5 268.1,420.7 268.1,418.4 269.1,415.9 269.5,413.3 270.5,411.1 271.4,413.8 271.0,416.2 271.9,419.0 272.6,421.4 272.0,423.9 273.0,426.0 272.8,428.6 273.2,431.3 273.0,433.6 273.7,436.1 273.6,438.4 274.4,440.9 274.5,443.3 275.6,445.9 275.1,448.9 276.0,451.4 276.2,454.6 277.3,457.5 277.6,460.0 278.2,462.2 278.2,464.6 278.8,467.1 278.7,469.2 279.7,471.3 279.2,473.6 280.1,475.9 280.4,478.1 280.3,480.4 281.5,483.1 281.5,485.5 281.5,487.9 282.3,490.8 283.3,493.4 286.0,496.4 289.5,497.7 291.0,498.6 342.7,498.6" fill="#3c3c3c" stroke="#141414" stroke-width="0.9" stroke-linejoin="round"/>
<polyline points="260.8,495.0 259.4,495.0 259.6,491.9 260.0,489.4 260.3,486.3 260.6,483.8 260.7,481.1 261.1,478.4 261.6,475.7 261.5,473.2 261.3,470.8 262.0,468.4 262.6,466.0 262.6,463.9 262.6,461.5 262.9,459.2 263.5,457.0 263.7,454.6 263.1,452.4 263.2,450.2 263.7,447.9 264.2,445.5 264.3,443.4 264.1,440.9 264.2,438.2 264.4,435.7 265.1,432.9 265.1,430.3 265.3,427.4 265.6,424.3 265.5,421.5 266.4,419.2 266.2,416.4 266.9,414.1 267.9,411.9 268.5,414.6 269.0,417.2 269.3,419.8 269.9,422.3 269.4,424.7 270.0,427.1 270.2,429.4 270.7,431.8 270.9,434.2 270.9,436.8 271.5,439.0 271.8,441.7 271.7,444.3 272.2,446.8 273.0,449.4 273.4,452.2 274.1,455.3 274.7,458.3 274.7,460.6 275.6,463.1 275.7,465.5 276.2,467.9 276.7,470.1 276.5,472.1 277.4,474.6 277.5,476.7 277.7,479.0 278.6,481.6 278.4,483.7 278.9,486.3 279.8,489.0 280.1,491.5 280.7,494.2 283.4,497.2 286.9,498.5 288.4,498.6 342.7,498.6" fill="none" stroke="#1c1c1c" stroke-width="1.0" stroke-dasharray="2.5,3.0"/>
<line x1="260.8" y1="498.3" x2="343.2" y2="498.3" stroke="#111" stroke-width="1.6"/>
<line x1="260.8" y1="406.0" x2="260.8" y2="498.6" stroke="#aaa" stroke-width="1"/>
<line x1="260.8" y1="407.0" x2="260.8" y2="498.6" stroke="#333" stroke-width="1.1" stroke-dasharray="1.6,2.9"/>
<line x1="258.6" y1="498.6" x2="260.8" y2="498.6" stroke="#444" stroke-width="0.9"/>
<line x1="258.6" y1="481.3" x2="260.8" y2="481.3" stroke="#444" stroke-width="0.9"/>
<line x1="258.6" y1="464.0" x2="260.8" y2="464.0" stroke="#444" stroke-width="0.9"/>
<line x1="258.6" y1="446.6" x2="260.8" y2="446.6" stroke="#444" stroke-width="0.9"/>
<line x1="258.6" y1="429.3" x2="260.8" y2="429.3" stroke="#444" stroke-width="0.9"/>
<line x1="258.6" y1="412.0" x2="260.8" y2="412.0" stroke="#444" stroke-width="0.9"/>
<path d="M344.1,404.8 H427.0 V496.6" fill="none" stroke="#666" stroke-width="1"/>
<polygon points="344.1,496.6 344.1,492.3 345.8,492.3 346.6,489.3 346.7,486.6 346.7,483.7 347.5,481.1 347.1,478.3 347.3,476.1 348.2,473.2 347.9,470.7 348.5,468.3 348.5,466.1 348.3,463.8 349.1,461.6 348.9,459.1 349.3,456.9 348.9,454.9 349.7,452.5 349.8,450.1 349.8,448.3 350.2,445.9 351.0,443.7 350.7,441.4 350.5,438.6 350.6,436.1 350.8,433.5 351.1,431.1 351.5,428.5 351.5,425.6 351.8,422.6 351.9,419.9 352.9,417.3 353.0,414.9 353.3,412.6 354.3,410.4 354.8,412.7 355.8,415.8 355.7,418.2 355.4,420.4 356.7,423.0 356.5,425.4 356.6,427.6 356.5,430.2 356.8,432.4 358.1,434.8 357.9,437.4 358.2,439.7 358.5,442.4 359.5,444.9 359.2,447.6 359.8,450.1 360.2,452.8 361.1,456.1 361.9,458.3 361.3,460.9 361.7,463.3 362.6,465.6 363.4,468.3 363.9,471.4 363.9,474.2 363.9,476.4 364.1,478.9 365.4,481.3 365.3,483.7 365.9,486.2 366.6,488.9 367.1,491.4 369.8,494.4 373.3,495.7 374.8,496.6 427.0,496.6" fill="#3c3c3c" stroke="#141414" stroke-width="0.9" stroke-linejoin="round"/>
<polyline points="344.1,493.1 343.2,493.1 343.2,490.1 343.3,487.4 344.1,484.5 344.4,481.7 345.0,479.4 344.3,476.8 344.6,474.1 345.3,471.5 345.9,469.3 345.4,466.8 346.4,464.4 346.0,462.2 346.3,460.0 346.7,457.7 347.2,455.5 347.1,453.4 347.3,451.0 347.9,449.0 347.3,446.7 348.4,444.3 348.1,442.2 348.6,439.8 348.4,437.2 348.9,434.5 349.1,431.8 348.9,429.3 349.0,426.2 349.3,423.5 349.3,420.7 349.4,418.3 350.0,415.8 350.7,413.4 351.7,411.2 351.7,413.7 352.2,416.4 353.1,419.0 353.4,421.3 353.6,423.9 353.6,426.2 354.0,428.4 354.7,430.8 354.3,433.4 355.4,435.8 354.9,438.2 355.6,440.5 356.0,443.1 356.3,445.7 357.0,448.4 357.2,450.9 357.4,453.8 358.5,456.9 359.0,459.4 359.6,461.6 359.9,463.8 360.0,466.4 360.9,469.4 360.8,472.2 361.3,475.0 361.4,477.3 362.1,479.8 362.7,482.2 362.7,484.5 363.3,487.2 364.3,489.8 364.5,492.2 367.2,495.2 370.7,496.5 372.2,496.6 427.0,496.6" fill="none" stroke="#1c1c1c" stroke-width="1.0" stroke-dasharray="2.5,3.0"/>
<line x1="344.1" y1="496.3" x2="427.5" y2="496.3" stroke="#111" stroke-width="1.6"/>
<line x1="344.1" y1="404.8" x2="344.1" y2="496.6" stroke="#aaa" stroke-width="1"/>
<line x1="344.1" y1="405.8" x2="344.1" y2="496.6" stroke="#333" stroke-width="1.1" stroke-dasharray="1.6,2.9"/>
<line x1="341.9" y1="496.6" x2="344.1" y2="496.6" stroke="#444" stroke-width="0.9"/>
<line x1="341.9" y1="479.4" x2="344.1" y2="479.4" stroke="#444" stroke-width="0.9"/>
<line x1="341.9" y1="462.3" x2="344.1" y2="462.3" stroke="#444" stroke-width="0.9"/>
<line x1="341.9" y1="445.1" x2="344.1" y2="445.1" stroke="#444" stroke-width="0.9"/>
<line x1="341.9" y1="428.0" x2="344.1" y2="428.0" stroke="#444" stroke-width="0.9"/>
<line x1="341.9" y1="410.8" x2="344.1" y2="410.8" stroke="#444" stroke-width="0.9"/>
<path d="M428.1,406.0 H511.1 V498.6" fill="none" stroke="#666" stroke-width="1"/>
<polygon points="428.1,498.6 428.1,494.2 429.8,494.2 430.1,491.2 430.9,488.5 430.7,485.5 431.0,483.1 430.7,480.4 431.1,477.5 431.4,475.1 431.9,472.4 432.7,470.1 432.1,467.5 432.3,465.2 432.8,463.0 432.6,460.5 433.3,458.4 434.0,456.2 433.2,454.0 433.8,451.5 434.5,449.4 434.2,447.0 434.6,445.0 434.7,442.6 435.1,439.8 434.5,437.3 434.9,434.9 435.5,431.9 435.5,429.5 435.5,426.6 435.7,423.5 435.9,420.7 436.6,418.1 437.4,415.7 437.3,413.3 438.3,411.1 438.8,413.9 439.1,416.5 439.7,419.0 440.0,421.4 439.8,423.7 440.4,426.3 440.6,428.6 440.5,431.2 441.7,433.3 441.7,435.8 441.4,438.6 442.2,440.9 442.3,443.4 443.2,446.2 443.9,449.0 443.8,451.4 444.4,454.2 445.1,457.5 445.9,459.7 445.7,462.2 446.6,464.6 446.6,467.1 447.3,469.3 447.4,471.6 447.4,473.5 447.9,475.9 448.5,478.3 448.5,480.5 448.5,483.0 449.3,485.5 450.1,488.0 449.9,490.7 451.1,493.4 453.8,496.4 457.3,497.7 458.8,498.6 511.1,498.6" fill="#3c3c3c" stroke="#141414" stroke-width="0.9" stroke-linejoin="round"/>
<polyline points="428.1,495.0 427.2,495.0 427.2,492.2 428.0,489.2 428.1,486.3 427.9,483.7 428.5,481.1 429.1,478.3 428.9,475.8 429.3,473.2 429.1,470.7 430.0,468.3 429.7,466.0 430.6,463.9 430.7,461.6 430.7,459.2 430.6,457.0 431.0,454.6 430.9,452.3 431.4,450.3 431.7,447.8 432.0,445.6 432.1,443.4 432.6,440.7 432.1,438.1 432.7,435.6 432.5,432.9 432.9,430.3 433.2,427.2 433.0,424.4 433.3,421.5 434.1,418.9 434.0,416.7 434.7,414.1 435.7,411.9 436.2,414.3 436.7,417.3 437.1,419.8 437.3,422.3 437.9,424.4 438.2,426.8 438.0,429.4 437.9,431.9 438.5,434.4 438.9,436.8 439.3,439.3 439.6,441.7 440.4,444.5 440.3,447.1 440.3,449.6 441.2,452.2 441.9,455.0 442.5,458.3 442.7,460.8 442.8,463.1 443.8,465.4 444.0,467.9 444.4,469.9 444.3,472.1 445.0,474.4 445.3,476.7 445.9,479.1 446.2,481.3 446.3,484.1 446.7,486.3 447.3,488.9 448.2,491.4 448.5,494.2 451.2,497.2 454.7,498.5 456.2,498.6 511.1,498.6" fill="none" stroke="#1c1c1c" stroke-width="1.0" stroke-dasharray="2.5,3.0"/>
<line x1="428.1" y1="498.3" x2="511.6" y2="498.3" stroke="#111" stroke-width="1.6"/>
<line x1="428.1" y1="406.0" x2="428.1" y2="498.6" stroke="#aaa" stroke-width="1"/>
<line x1="428.1" y1="407.0" x2="428.1" y2="498.6" stroke="#333" stroke-width="1.1" stroke-dasharray="1.6,2.9"/>
<line x1="425.9" y1="498.6" x2="428.1" y2="498.6" stroke="#444" stroke-width="0.9"/>
<line x1="425.9" y1="481.3" x2="428.1" y2="481.3" stroke="#444" stroke-width="0.9"/>
<line x1="425.9" y1="464.0" x2="428.1" y2="464.0" stroke="#444" stroke-width="0.9"/>
<line x1="425.9" y1="446.6" x2="428.1" y2="446.6" stroke="#444" stroke-width="0.9"/>
<line x1="425.9" y1="429.3" x2="428.1" y2="429.3" stroke="#444" stroke-width="0.9"/>
<line x1="425.9" y1="412.0" x2="428.1" y2="412.0" stroke="#444" stroke-width="0.9"/>
<path d="M90.7,503.7 H173.2 V588.0" fill="none" stroke="#666" stroke-width="1"/>
<polygon points="90.7,588.0 90.7,584.0 92.0,584.0 91.8,581.4 92.5,578.9 92.9,576.0 93.3,573.6 93.9,571.1 94.0,568.7 94.1,566.6 94.1,564.0 94.7,561.5 95.0,558.6 94.9,556.5 95.5,553.7 95.5,551.2 95.4,548.7 95.9,546.2 96.7,544.0 96.5,541.4 96.5,539.1 96.9,536.7 96.6,534.3 97.1,532.0 97.9,529.3 97.1,527.3 97.7,524.7 97.2,521.9 98.0,519.4 98.1,516.7 98.2,514.6 99.3,511.9 99.5,509.9 100.5,507.9 101.2,510.2 101.4,512.7 101.9,515.1 102.3,517.5 102.0,519.4 102.2,521.6 102.8,523.9 103.5,526.3 103.3,528.5 104.1,530.8 104.4,532.9 104.4,535.1 105.2,537.5 105.3,539.8 105.5,542.3 106.0,544.7 106.6,547.3 107.3,550.4 107.6,552.6 108.5,554.9 108.0,556.9 108.8,559.2 109.5,561.6 110.1,564.3 110.1,567.2 110.7,569.4 111.3,571.5 110.9,573.6 111.5,576.0 111.8,578.3 112.8,580.7 113.3,583.2 116.0,586.0 119.5,587.2 121.0,588.0 173.2,588.0" fill="#3c3c3c" stroke="#141414" stroke-width="0.9" stroke-linejoin="round"/>
<polyline points="90.7,584.8 89.6,584.8 89.6,582.3 89.8,579.6 90.5,576.8 90.5,574.5 91.2,572.2 91.5,569.4 91.7,567.4 91.7,564.8 92.3,562.2 91.8,559.5 92.3,557.2 92.5,554.5 93.1,552.0 93.6,549.6 93.8,547.3 94.0,544.5 94.2,542.4 94.6,539.8 94.5,537.5 94.3,535.0 94.8,532.6 95.3,530.4 95.0,527.9 95.3,525.5 95.0,522.7 96.0,520.0 95.7,517.5 96.2,515.3 96.9,512.8 97.1,510.7 98.1,508.7 98.5,511.0 98.6,513.5 99.5,515.9 99.8,518.0 99.8,520.3 99.7,522.7 100.4,524.7 100.2,526.9 101.3,529.0 101.0,531.3 101.3,533.7 102.0,535.9 102.6,538.5 102.8,540.9 103.1,543.2 103.6,545.5 104.7,548.2 104.9,551.2 105.7,553.3 105.6,555.7 106.0,557.9 106.4,560.0 107.0,562.5 107.7,565.1 107.7,568.0 108.2,570.1 108.9,572.3 108.4,574.5 109.1,576.8 109.9,579.1 110.4,581.8 110.9,584.0 113.6,586.8 117.1,588.0 118.6,588.0 173.2,588.0" fill="none" stroke="#1c1c1c" stroke-width="1.0" stroke-dasharray="2.5,3.0"/>
<polyline points="90.7,584.5 91.2,582.0 91.1,579.0 91.6,576.5 91.9,574.0 92.3,571.7 92.4,569.2 92.5,567.0 92.8,564.5 93.2,561.8 93.4,559.4 94.0,556.8 93.5,554.1 94.2,551.7 94.2,549.4 94.5,546.6 95.0,544.4 94.9,541.9 95.6,539.7 95.6,537.2 96.2,534.7 95.8,532.6 96.3,529.9 96.0,527.7 96.4,525.2 96.5,522.4 96.6,520.1 96.8,517.2 97.3,514.9 97.6,512.5 98.2,510.4 99.2,508.4 100.0,510.7 100.1,513.2 100.6,515.6 100.6,517.6 100.6,520.2 101.7,522.2 101.5,524.4 102.3,526.8 102.3,528.8 102.2,531.0 103.0,533.2 103.1,535.6 103.9,538.1 104.3,540.4 104.7,542.8 104.7,545.2 105.2,548.2 106.0,550.9 105.9,553.2 106.8,555.4 107.5,557.3 107.5,559.7 107.8,562.3 108.5,564.8 108.8,567.7 109.5,569.7 109.0,572.2 109.9,574.4 110.2,576.5 110.6,579.1 111.8,581.1 112.0,583.7 114.7,586.5 118.2,587.7 119.7,588.0 173.2,588.0" fill="none" stroke="#1a1a1a" stroke-width="0.7"/>
<line x1="90.7" y1="587.7" x2="173.7" y2="587.7" stroke="#111" stroke-width="1.6"/>
<line x1="90.7" y1="503.7" x2="90.7" y2="588.0" stroke="#aaa" stroke-width="1"/>
<line x1="90.7" y1="504.7" x2="90.7" y2="588.0" stroke="#333" stroke-width="1.1" stroke-dasharray="1.6,2.9"/>
<line x1="88.5" y1="588.0" x2="90.7" y2="588.0" stroke="#444" stroke-width="0.9"/>
<line x1="88.5" y1="572.3" x2="90.7" y2="572.3" stroke="#444" stroke-width="0.9"/>
<line x1="88.5" y1="556.7" x2="90.7" y2="556.7" stroke="#444" stroke-width="0.9"/>
<line x1="88.5" y1="541.0" x2="90.7" y2="541.0" stroke="#444" stroke-width="0.9"/>
<line x1="88.5" y1="525.4" x2="90.7" y2="525.4" stroke="#444" stroke-width="0.9"/>
<line x1="88.5" y1="509.7" x2="90.7" y2="509.7" stroke="#444" stroke-width="0.9"/>
<text x="86.1" y="589.7" font-size="4.7" fill="#2e2e2e" stroke="#2e2e2e" stroke-width="0.15" text-anchor="end" font-family='Liberation Sans', sans-serif>0</text>
<text x="86.1" y="574.0" font-size="4.7" fill="#2e2e2e" stroke="#2e2e2e" stroke-width="0.15" text-anchor="end" font-family='Liberation Sans', sans-serif>20</text>
<text x="86.1" y="558.4" font-size="4.7" fill="#2e2e2e" stroke="#2e2e2e" stroke-width="0.15" text-anchor="end" font-family='Liberation Sans', sans-serif>40</text>
<text x="86.1" y="542.7" font-size="4.7" fill="#2e2e2e" stroke="#2e2e2e" stroke-width="0.15" text-anchor="end" font-family='Liberation Sans', sans-serif>60</text>
<text x="86.1" y="527.1" font-size="4.7" fill="#2e2e2e" stroke="#2e2e2e" stroke-width="0.15" text-anchor="end" font-family='Liberation Sans', sans-serif>80</text>
<text x="86.1" y="511.4" font-size="4.7" fill="#2e2e2e" stroke="#2e2e2e" stroke-width="0.15" text-anchor="end" font-family='Liberation Sans', sans-serif>100</text>
<path d="M177.3,504.5 H259.0 V589.8" fill="none" stroke="#666" stroke-width="1"/>
<polygon points="177.3,589.8 177.3,585.8 178.0,585.8 178.3,583.1 178.4,580.6 178.9,577.7 179.4,575.4 179.3,573.1 179.9,570.5 179.4,568.0 180.1,565.6 180.9,563.1 180.5,560.6 180.5,557.8 181.6,555.3 181.5,552.8 181.6,550.6 182.0,547.9 181.7,545.6 182.4,543.0 183.2,540.8 182.9,538.3 183.1,536.0 183.1,533.7 183.6,531.0 183.5,528.8 183.7,526.2 184.0,523.3 184.4,520.8 184.1,518.2 184.3,515.9 184.7,513.7 185.5,511.3 186.5,509.3 187.1,511.7 187.4,514.1 187.9,516.5 188.4,518.9 187.8,521.0 188.9,523.4 188.8,525.4 189.5,527.9 189.6,530.1 190.0,532.0 190.3,534.5 190.4,536.7 190.8,539.0 191.7,541.6 191.9,543.8 192.0,546.3 192.3,549.0 193.3,552.0 193.5,554.1 194.3,556.3 195.0,558.4 194.8,560.8 195.1,563.7 195.7,566.3 196.1,568.9 196.9,571.1 196.4,573.1 197.7,575.5 197.5,577.7 198.1,580.0 198.7,582.5 199.3,585.0 202.0,587.8 205.5,589.0 207.0,589.8 259.0,589.8" fill="#3c3c3c" stroke="#141414" stroke-width="0.9" stroke-linejoin="round"/>
<polyline points="177.3,586.6 175.6,586.6 175.6,584.0 176.4,581.3 176.5,578.5 177.1,576.3 177.3,573.5 177.2,571.3 177.8,568.9 177.7,566.4 177.9,563.8 178.0,561.4 178.1,558.8 179.3,556.0 179.1,553.6 179.0,551.1 179.9,548.9 180.2,546.4 180.1,543.9 180.3,541.6 180.5,539.1 180.5,536.8 180.5,534.4 180.9,531.6 180.7,529.5 181.3,527.0 181.8,524.2 181.1,521.6 181.7,519.0 182.5,516.6 182.5,514.3 183.1,512.1 184.1,510.1 184.1,512.4 184.9,515.0 185.5,517.3 185.9,519.6 186.4,521.8 186.3,524.1 186.4,526.2 186.5,528.7 186.7,530.9 187.3,532.9 187.5,535.2 188.0,537.5 188.1,539.7 188.6,542.5 189.5,544.7 189.6,547.1 190.5,549.8 190.9,552.8 190.9,555.0 191.5,557.4 191.6,559.5 192.4,561.6 192.4,564.5 193.5,567.2 193.7,569.7 194.2,571.7 194.8,574.3 194.9,576.4 195.1,578.5 195.9,580.9 196.1,583.3 196.9,585.8 199.6,588.6 203.1,589.8 204.6,589.8 259.0,589.8" fill="none" stroke="#1c1c1c" stroke-width="1.0" stroke-dasharray="2.5,3.0"/>
<polyline points="177.3,586.3 176.7,586.3 177.1,583.5 177.4,580.8 177.6,578.2 177.4,575.9 178.2,573.4 178.5,571.2 178.6,568.5 178.8,566.1 179.6,563.4 179.3,561.0 179.4,558.3 180.4,556.0 180.2,553.3 180.1,551.0 181.1,548.5 181.3,545.9 180.9,543.4 181.4,541.3 181.6,538.8 181.6,536.3 182.1,534.1 182.4,531.5 181.8,529.1 182.4,526.7 182.2,524.1 182.3,521.5 182.8,518.7 182.9,516.3 183.8,514.1 184.2,511.8 185.2,509.8 185.5,512.0 186.0,514.7 186.6,517.0 186.8,519.4 187.2,521.4 186.8,523.5 187.5,525.9 187.6,528.3 188.6,530.4 188.2,532.5 188.8,535.0 189.1,537.2 189.3,539.7 189.8,541.9 189.9,544.5 190.7,546.8 191.6,549.8 192.0,552.5 192.2,554.6 193.1,556.8 193.0,559.2 193.5,561.3 193.6,563.9 194.0,566.9 194.8,569.4 195.3,571.7 195.3,573.9 195.9,576.0 196.2,578.2 197.0,580.5 197.5,583.1 198.0,585.5 200.7,588.3 204.2,589.5 205.7,589.8 259.0,589.8" fill="none" stroke="#1a1a1a" stroke-width="0.7"/>
<line x1="177.3" y1="589.5" x2="259.5" y2="589.5" stroke="#111" stroke-width="1.6"/>
<line x1="177.3" y1="504.5" x2="177.3" y2="589.8" stroke="#aaa" stroke-width="1"/>
<line x1="177.3" y1="505.5" x2="177.3" y2="589.8" stroke="#333" stroke-width="1.1" stroke-dasharray="1.6,2.9"/>
<line x1="175.1" y1="589.8" x2="177.3" y2="589.8" stroke="#444" stroke-width="0.9"/>
<line x1="175.1" y1="573.9" x2="177.3" y2="573.9" stroke="#444" stroke-width="0.9"/>
<line x1="175.1" y1="558.1" x2="177.3" y2="558.1" stroke="#444" stroke-width="0.9"/>
<line x1="175.1" y1="542.2" x2="177.3" y2="542.2" stroke="#444" stroke-width="0.9"/>
<line x1="175.1" y1="526.4" x2="177.3" y2="526.4" stroke="#444" stroke-width="0.9"/>
<line x1="175.1" y1="510.5" x2="177.3" y2="510.5" stroke="#444" stroke-width="0.9"/>
<path d="M260.4,501.0 H342.3 V589.8" fill="none" stroke="#666" stroke-width="1"/>
<polygon points="260.4,589.8 262.5,589.8 262.5,585.7 262.3,582.7 263.0,580.0 263.4,577.5 264.1,574.8 263.9,572.4 264.5,569.9 264.2,567.5 264.6,565.1 264.5,562.7 265.0,560.5 265.4,558.3 265.3,556.3 266.3,553.9 266.0,551.9 265.8,549.6 265.9,547.2 266.8,544.4 267.3,542.2 267.0,539.7 267.4,537.1 267.2,534.7 267.8,532.3 267.7,529.7 268.4,527.3 268.2,524.8 268.6,522.1 268.7,519.5 268.6,516.6 269.1,514.3 269.4,511.7 270.0,509.6 271.0,507.5 271.8,509.8 272.3,512.6 272.4,514.9 272.8,517.0 272.7,519.4 272.6,521.7 273.3,524.0 273.7,526.2 273.6,528.4 274.4,530.6 274.4,533.0 274.9,535.5 275.3,538.1 276.2,540.5 276.7,543.1 276.5,545.4 277.3,548.1 277.8,551.1 278.2,553.2 279.1,555.6 279.2,557.7 279.3,560.2 279.3,562.8 279.9,565.6 280.6,568.4 280.7,570.6 281.2,572.7 281.1,575.1 282.0,577.5 282.1,579.9 282.6,582.4 283.8,584.9 286.5,587.7 290.0,589.0 291.5,589.8 342.3,589.8" fill="#3c3c3c" stroke="#141414" stroke-width="0.9" stroke-linejoin="round"/>
<polyline points="260.4,586.5 260.0,583.8 260.6,581.2 261.0,578.3 261.0,575.8 261.7,573.3 261.6,570.9 262.4,568.5 262.2,565.9 262.4,563.8 262.8,561.5 262.6,559.2 263.5,557.0 263.4,555.0 263.6,552.7 263.5,550.3 264.5,547.9 264.2,545.2 265.0,542.9 264.9,540.5 265.0,537.9 265.0,535.3 265.0,533.1 265.3,530.7 265.9,528.2 265.8,525.6 266.1,522.8 266.4,519.9 266.2,517.4 266.7,515.2 267.1,512.5 267.6,510.4 268.6,508.3 269.1,510.8 269.4,513.4 270.0,515.7 270.1,517.9 270.5,520.1 270.5,522.5 270.9,524.8 271.7,526.9 271.2,529.2 272.4,531.8 271.9,534.0 272.5,536.3 272.5,538.7 273.1,541.2 274.1,543.8 274.1,546.2 274.8,549.2 275.4,551.9 275.8,554.3 276.4,556.3 276.9,558.7 276.9,561.0 277.3,563.7 277.5,566.5 278.2,569.2 278.2,571.5 279.3,573.8 279.4,576.0 279.6,578.3 280.4,580.6 280.4,583.3 281.4,585.7 284.1,588.5 287.6,589.8 289.1,589.8 342.3,589.8" fill="none" stroke="#1c1c1c" stroke-width="1.0" stroke-dasharray="2.5,3.0"/>
<polyline points="260.4,586.2 261.2,586.2 261.4,583.5 261.7,580.6 262.1,578.0 262.6,575.4 262.8,573.1 262.5,570.7 262.6,568.0 263.3,565.6 263.5,563.5 263.4,561.2 263.9,559.2 263.9,556.7 264.8,554.6 264.7,552.4 265.4,549.8 265.1,547.3 265.5,545.2 265.5,542.6 265.6,540.1 266.1,537.6 266.3,535.1 266.6,532.7 267.0,530.1 267.2,527.6 266.9,525.3 266.6,522.6 267.4,519.8 267.3,517.1 267.3,514.9 267.9,512.5 268.7,510.1 269.7,508.0 270.6,510.4 271.0,512.9 271.1,515.4 271.7,517.8 271.8,519.8 271.9,522.4 272.0,524.5 272.1,526.7 272.8,528.9 272.7,531.2 273.2,533.6 273.6,536.0 274.1,538.4 274.1,540.7 274.8,543.5 275.2,545.9 276.3,548.9 276.5,551.6 276.7,554.0 277.2,556.1 277.2,558.4 278.0,560.7 278.5,563.3 278.6,566.3 279.3,568.9 279.2,571.3 279.9,573.5 280.0,575.7 280.7,578.0 281.6,580.4 281.8,582.9 282.5,585.4 285.2,588.2 288.7,589.5 290.2,589.8 342.3,589.8" fill="none" stroke="#1a1a1a" stroke-width="0.7"/>
<line x1="260.4" y1="589.5" x2="342.8" y2="589.5" stroke="#111" stroke-width="1.6"/>
<line x1="260.4" y1="501.0" x2="260.4" y2="589.8" stroke="#aaa" stroke-width="1"/>
<line x1="260.4" y1="502.0" x2="260.4" y2="589.8" stroke="#333" stroke-width="1.1" stroke-dasharray="1.6,2.9"/>
<line x1="258.2" y1="589.8" x2="260.4" y2="589.8" stroke="#444" stroke-width="0.9"/>
<line x1="258.2" y1="573.2" x2="260.4" y2="573.2" stroke="#444" stroke-width="0.9"/>
<line x1="258.2" y1="556.7" x2="260.4" y2="556.7" stroke="#444" stroke-width="0.9"/>
<line x1="258.2" y1="540.1" x2="260.4" y2="540.1" stroke="#444" stroke-width="0.9"/>
<line x1="258.2" y1="523.6" x2="260.4" y2="523.6" stroke="#444" stroke-width="0.9"/>
<line x1="258.2" y1="507.0" x2="260.4" y2="507.0" stroke="#444" stroke-width="0.9"/>
<path d="M345.9,502.9 H426.7 V589.6" fill="none" stroke="#666" stroke-width="1"/>
<polygon points="345.9,589.6 345.9,585.6 347.0,585.6 348.1,583.5 347.6,581.5 348.5,579.1 348.7,577.0 348.5,574.5 349.9,572.7 349.1,570.3 349.8,568.0 350.2,565.9 349.9,563.6 350.2,561.2 351.2,559.1 350.8,556.8 350.7,554.8 351.4,552.4 351.6,550.1 352.4,547.5 352.1,545.2 352.5,542.8 352.3,540.1 352.6,538.0 353.3,535.3 352.9,532.9 353.2,530.4 353.4,527.6 354.0,525.2 354.3,522.6 354.2,519.8 354.1,517.6 354.2,515.5 354.7,513.1 355.5,510.8 355.5,508.6 355.7,510.8 356.1,513.1 356.6,515.3 356.4,517.4 356.8,519.8 356.5,521.9 357.9,524.2 357.2,526.3 358.2,528.7 358.1,530.8 358.5,532.9 358.4,535.7 359.2,538.0 359.3,541.0 360.1,543.5 361.0,545.7 361.5,548.1 360.8,550.4 361.3,553.0 362.1,555.3 362.7,558.1 362.7,560.4 364.0,563.2 364.1,565.9 364.6,568.3 364.5,570.3 365.1,572.7 366.1,575.1 366.2,577.3 367.3,579.4 368.0,581.7 369.1,584.0 370.7,586.3 374.0,588.3 375.5,589.6 426.7,589.6" fill="#3c3c3c" stroke="#141414" stroke-width="0.9" stroke-linejoin="round"/>
<polyline points="345.9,589.6 346.9,589.6 347.9,589.6 348.9,589.6 349.9,589.6 350.9,589.6 351.9,589.6 352.9,589.6 353.9,589.5 354.9,589.3 355.9,588.6 356.9,587.9 357.9,586.6 358.9,582.3 359.9,572.9 360.9,570.3 361.9,561.8 362.9,539.9 363.9,531.8 364.9,515.5 366.1,509.9 366.9,512.1 367.9,520.7 368.9,536.0 369.9,536.3 370.9,544.4 371.9,560.8 372.9,567.5 373.9,570.7 374.9,577.5 375.9,582.0 376.9,585.4 377.9,586.9 378.9,587.8 379.9,588.8 380.9,588.9 381.9,589.3 382.9,589.4 383.9,589.5 384.9,589.6 385.9,589.6 386.9,589.6 387.9,589.6 388.9,589.6 389.9,589.6 390.9,589.6 391.9,589.6 392.9,589.6 393.9,589.6 394.9,589.6 395.9,589.6 396.9,589.6 397.9,589.6 398.9,589.6 399.9,589.6 400.9,589.6 401.9,589.6 402.9,589.6 403.9,589.6 404.9,589.6 405.9,589.6 406.9,589.6 407.9,589.6 408.9,589.6 409.9,589.6 410.9,589.6 411.9,589.6 412.9,589.6 413.9,589.6 414.9,589.6 415.9,589.6 416.9,589.6 417.9,589.6 418.9,589.6 419.9,589.6 420.9,589.6 421.9,589.6 422.9,589.6 423.9,589.6 424.9,589.6 425.9,589.6 426.7,589.6" fill="none" stroke="#1c1c1c" stroke-width="1.0" stroke-dasharray="2.5,3.0"/>
<polyline points="345.9,589.6 346.9,589.6 347.9,589.6 348.9,589.6 349.9,589.6 350.9,589.6 351.9,589.6 352.9,589.6 353.9,589.5 354.9,589.4 355.9,588.9 356.9,587.5 357.9,586.4 358.9,585.7 359.9,581.0 360.9,572.0 361.9,560.5 362.9,550.9 363.9,542.9 364.9,525.6 365.9,515.7 366.8,510.5 367.9,517.1 368.9,522.8 369.9,534.4 370.9,546.7 371.9,552.0 372.9,559.9 373.9,563.2 374.9,577.2 375.9,576.0 376.9,581.8 377.9,585.6 378.9,586.3 379.9,588.1 380.9,589.0 381.9,589.1 382.9,589.4 383.9,589.5 384.9,589.6 385.9,589.6 386.9,589.6 387.9,589.6 388.9,589.6 389.9,589.6 390.9,589.6 391.9,589.6 392.9,589.6 393.9,589.6 394.9,589.6 395.9,589.6 396.9,589.6 397.9,589.6 398.9,589.6 399.9,589.6 400.9,589.6 401.9,589.6 402.9,589.6 403.9,589.6 404.9,589.6 405.9,589.6 406.9,589.6 407.9,589.6 408.9,589.6 409.9,589.6 410.9,589.6 411.9,589.6 412.9,589.6 413.9,589.6 414.9,589.6 415.9,589.6 416.9,589.6 417.9,589.6 418.9,589.6 419.9,589.6 420.9,589.6 421.9,589.6 422.9,589.6 423.9,589.6 424.9,589.6 425.9,589.6 426.7,589.6" fill="none" stroke="#1a1a1a" stroke-width="0.7"/>
<line x1="345.9" y1="589.3" x2="427.2" y2="589.3" stroke="#111" stroke-width="1.6"/>
<line x1="345.9" y1="502.9" x2="345.9" y2="589.6" stroke="#aaa" stroke-width="1"/>
<line x1="345.9" y1="503.9" x2="345.9" y2="589.6" stroke="#333" stroke-width="1.1" stroke-dasharray="1.6,2.9"/>
<line x1="343.7" y1="589.6" x2="345.9" y2="589.6" stroke="#444" stroke-width="0.9"/>
<line x1="343.7" y1="573.5" x2="345.9" y2="573.5" stroke="#444" stroke-width="0.9"/>
<line x1="343.7" y1="557.3" x2="345.9" y2="557.3" stroke="#444" stroke-width="0.9"/>
<line x1="343.7" y1="541.2" x2="345.9" y2="541.2" stroke="#444" stroke-width="0.9"/>
<line x1="343.7" y1="525.0" x2="345.9" y2="525.0" stroke="#444" stroke-width="0.9"/>
<line x1="343.7" y1="508.9" x2="345.9" y2="508.9" stroke="#444" stroke-width="0.9"/>
<path d="M429.4,503.3 H511.1 V589.6" fill="none" stroke="#666" stroke-width="1"/>
<polygon points="429.4,589.6 429.4,585.6 431.0,585.6 432.0,583.3 432.4,581.2 432.5,579.1 433.1,576.8 433.2,574.8 432.8,572.6 433.2,570.3 434.3,568.2 434.2,565.9 434.7,563.5 434.6,561.2 434.8,559.0 435.5,556.8 435.3,554.6 435.3,552.5 435.6,550.1 436.0,548.0 435.6,545.4 435.6,543.5 436.5,540.9 436.5,538.8 436.7,536.6 436.9,534.3 437.7,531.8 437.5,529.6 438.0,527.0 437.8,524.7 438.2,522.3 438.2,519.8 438.5,517.4 438.8,515.3 439.2,513.1 439.3,511.0 439.5,508.6 439.6,510.8 439.7,513.0 440.1,515.4 440.5,517.5 441.2,519.8 441.4,522.6 441.6,525.0 442.3,527.7 443.0,530.3 442.8,532.9 442.6,535.2 443.2,537.8 444.5,540.0 444.5,542.3 444.8,544.8 445.4,547.1 445.8,549.5 446.1,552.1 446.9,554.4 446.8,556.7 446.9,559.4 447.7,562.0 448.6,564.8 448.7,567.2 448.9,569.5 450.3,571.8 450.2,573.9 450.7,576.4 450.9,578.6 451.7,580.9 452.7,583.0 454.3,585.0 455.3,587.0 458.6,588.5 460.1,589.6 511.1,589.6" fill="#3c3c3c" stroke="#141414" stroke-width="0.9" stroke-linejoin="round"/>
<polyline points="429.4,589.6 430.4,589.6 431.4,589.6 432.4,589.6 433.4,589.6 434.4,589.6 435.4,589.6 436.4,589.6 437.4,589.6 438.4,589.6 439.4,589.4 440.4,589.4 441.4,589.1 442.4,587.2 443.4,586.7 444.4,581.0 445.4,574.6 446.4,573.0 447.4,556.5 448.4,549.8 449.4,537.4 450.4,525.0 451.4,511.2 452.0,509.9 453.4,521.2 454.4,524.6 455.4,533.8 456.4,543.5 457.4,550.0 458.4,563.3 459.4,565.7 460.4,572.4 461.4,577.1 462.4,583.7 463.4,584.0 464.4,587.3 465.4,588.5 466.4,588.6 467.4,589.2 468.4,589.5 469.4,589.5 470.4,589.6 471.4,589.6 472.4,589.6 473.4,589.6 474.4,589.6 475.4,589.6 476.4,589.6 477.4,589.6 478.4,589.6 479.4,589.6 480.4,589.6 481.4,589.6 482.4,589.6 483.4,589.6 484.4,589.6 485.4,589.6 486.4,589.6 487.4,589.6 488.4,589.6 489.4,589.6 490.4,589.6 491.4,589.6 492.4,589.6 493.4,589.6 494.4,589.6 495.4,589.6 496.4,589.6 497.4,589.6 498.4,589.6 499.4,589.6 500.4,589.6 501.4,589.6 502.4,589.6 503.4,589.6 504.4,589.6 505.4,589.6 506.4,589.6 507.4,589.6 508.4,589.6 509.4,589.6 510.4,589.6 511.1,589.6" fill="none" stroke="#1c1c1c" stroke-width="1.0" stroke-dasharray="2.5,3.0"/>
<polyline points="429.4,589.6 430.4,589.6 431.4,589.6 432.4,589.6 433.4,589.6 434.4,589.6 435.4,589.6 436.4,589.6 437.4,589.6 438.4,589.6 439.4,589.5 440.4,589.3 441.4,588.9 442.4,588.7 443.4,587.8 444.4,584.5 445.4,581.1 446.4,574.5 447.4,568.4 448.4,561.2 449.4,536.3 450.4,527.2 451.4,523.5 452.7,510.5 453.4,514.7 454.4,521.6 455.4,532.6 456.4,532.7 457.4,545.9 458.4,558.0 459.4,562.5 460.4,569.0 461.4,577.4 462.4,579.9 463.4,585.4 464.4,586.8 465.4,587.5 466.4,588.4 467.4,589.1 468.4,589.1 469.4,589.4 470.4,589.5 471.4,589.6 472.4,589.6 473.4,589.6 474.4,589.6 475.4,589.6 476.4,589.6 477.4,589.6 478.4,589.6 479.4,589.6 480.4,589.6 481.4,589.6 482.4,589.6 483.4,589.6 484.4,589.6 485.4,589.6 486.4,589.6 487.4,589.6 488.4,589.6 489.4,589.6 490.4,589.6 491.4,589.6 492.4,589.6 493.4,589.6 494.4,589.6 495.4,589.6 496.4,589.6 497.4,589.6 498.4,589.6 499.4,589.6 500.4,589.6 501.4,589.6 502.4,589.6 503.4,589.6 504.4,589.6 505.4,589.6 506.4,589.6 507.4,589.6 508.4,589.6 509.4,589.6 510.4,589.6 511.1,589.6" fill="none" stroke="#1a1a1a" stroke-width="0.7"/>
<line x1="429.4" y1="589.3" x2="511.6" y2="589.3" stroke="#111" stroke-width="1.6"/>
<line x1="429.4" y1="503.3" x2="429.4" y2="589.6" stroke="#aaa" stroke-width="1"/>
<line x1="429.4" y1="504.3" x2="429.4" y2="589.6" stroke="#333" stroke-width="1.1" stroke-dasharray="1.6,2.9"/>
<line x1="427.2" y1="589.6" x2="429.4" y2="589.6" stroke="#444" stroke-width="0.9"/>
<line x1="427.2" y1="573.5" x2="429.4" y2="573.5" stroke="#444" stroke-width="0.9"/>
<line x1="427.2" y1="557.5" x2="429.4" y2="557.5" stroke="#444" stroke-width="0.9"/>
<line x1="427.2" y1="541.4" x2="429.4" y2="541.4" stroke="#444" stroke-width="0.9"/>
<line x1="427.2" y1="525.4" x2="429.4" y2="525.4" stroke="#444" stroke-width="0.9"/>
<line x1="427.2" y1="509.3" x2="429.4" y2="509.3" stroke="#444" stroke-width="0.9"/>
<path d="M91.2,596.8 H173.6 V683.1" fill="none" stroke="#666" stroke-width="1"/>
<polygon points="91.2,683.1 91.2,679.0 92.0,679.0 92.4,676.4 92.5,673.7 92.9,670.9 93.1,668.5 93.0,665.9 93.8,663.4 94.1,661.2 94.1,658.8 94.2,656.3 94.5,653.5 95.3,651.0 95.2,648.2 95.5,645.8 95.9,643.3 95.6,641.0 96.1,638.4 96.3,635.9 96.6,633.7 96.9,631.2 96.5,628.9 97.4,626.4 97.0,624.0 96.9,621.5 97.7,619.0 97.7,616.5 97.5,613.6 98.1,610.9 98.7,608.8 99.0,606.3 99.5,604.0 100.5,602.0 101.0,604.6 101.7,606.8 101.9,609.3 102.4,611.5 102.6,613.8 102.2,615.8 102.8,618.2 103.7,620.3 103.5,622.9 103.6,625.2 104.1,627.5 104.4,629.6 105.2,631.8 105.5,634.4 105.8,637.0 106.0,639.3 106.9,642.3 107.3,645.0 107.6,647.2 108.5,649.5 108.5,651.9 108.8,653.9 109.3,656.8 109.4,659.2 110.1,662.0 110.4,664.5 111.4,666.5 111.4,668.8 111.5,670.9 112.1,673.5 112.6,675.8 113.3,678.2 116.0,681.1 119.5,682.3 121.0,683.1 173.6,683.1" fill="#3c3c3c" stroke="#141414" stroke-width="0.9" stroke-linejoin="round"/>
<polyline points="91.2,679.8 89.6,679.8 90.3,677.3 89.9,674.4 90.5,671.7 90.8,669.4 90.8,666.9 91.7,664.6 91.0,661.8 91.7,659.6 91.6,656.8 91.9,654.5 93.0,651.7 92.4,649.4 93.1,646.6 93.5,644.2 93.4,641.7 94.1,639.4 93.7,636.7 94.0,634.3 94.5,632.0 95.0,629.5 94.9,627.3 94.9,624.8 94.8,622.3 95.3,619.8 95.1,617.3 95.8,614.3 95.7,611.7 96.3,609.3 96.4,607.2 97.1,604.8 98.1,602.8 98.1,605.2 99.1,607.5 99.5,610.1 100.0,612.2 100.4,614.5 100.3,616.7 100.4,619.0 100.3,621.2 100.8,623.6 101.1,625.9 101.2,628.0 102.0,630.4 102.3,633.0 103.0,635.2 103.3,637.8 103.6,640.1 103.9,643.0 104.9,645.8 105.1,648.0 105.2,650.2 105.7,652.5 106.4,654.7 106.8,657.3 107.1,660.2 107.7,662.8 108.4,665.1 108.3,667.4 108.4,669.5 109.1,671.7 109.2,674.2 109.9,676.6 110.9,679.0 113.6,681.9 117.1,683.1 118.6,683.1 173.6,683.1" fill="none" stroke="#1c1c1c" stroke-width="1.0" stroke-dasharray="2.5,3.0"/>
<polyline points="91.2,679.5 91.2,676.7 91.1,674.2 91.6,671.4 91.9,668.9 92.5,666.7 92.7,664.2 92.9,661.5 92.8,659.3 92.6,656.7 93.2,654.0 93.1,651.3 93.8,648.8 94.2,646.3 94.2,643.9 94.9,641.3 95.1,638.9 95.6,636.4 95.6,634.2 95.6,631.7 96.2,629.1 96.1,627.0 96.4,624.5 96.3,622.0 96.4,619.5 96.6,617.0 96.9,614.3 96.8,611.4 97.2,609.0 98.0,607.0 98.2,604.5 99.2,602.5 99.4,605.0 100.3,607.4 100.6,609.8 100.3,611.9 100.6,614.1 100.9,616.7 101.5,618.7 102.0,621.1 102.1,623.1 102.9,625.6 102.8,627.8 103.1,630.1 103.3,632.4 103.8,634.8 103.8,637.4 104.7,639.8 105.6,642.8 106.0,645.5 106.7,647.6 106.8,649.9 107.2,652.2 107.5,654.4 107.8,657.2 108.4,659.6 108.8,662.5 109.1,664.6 109.2,667.0 109.8,669.2 110.2,671.4 111.0,673.8 111.3,676.4 112.0,678.7 114.7,681.6 118.2,682.8 119.7,683.1 173.6,683.1" fill="none" stroke="#1a1a1a" stroke-width="0.7"/>
<line x1="91.2" y1="682.8" x2="174.1" y2="682.8" stroke="#111" stroke-width="1.6"/>
<line x1="91.2" y1="596.8" x2="91.2" y2="683.1" stroke="#aaa" stroke-width="1"/>
<line x1="91.2" y1="597.8" x2="91.2" y2="683.1" stroke="#333" stroke-width="1.1" stroke-dasharray="1.6,2.9"/>
<line x1="89.0" y1="683.1" x2="91.2" y2="683.1" stroke="#444" stroke-width="0.9"/>
<line x1="89.0" y1="667.0" x2="91.2" y2="667.0" stroke="#444" stroke-width="0.9"/>
<line x1="89.0" y1="651.0" x2="91.2" y2="651.0" stroke="#444" stroke-width="0.9"/>
<line x1="89.0" y1="634.9" x2="91.2" y2="634.9" stroke="#444" stroke-width="0.9"/>
<line x1="89.0" y1="618.9" x2="91.2" y2="618.9" stroke="#444" stroke-width="0.9"/>
<line x1="89.0" y1="602.8" x2="91.2" y2="602.8" stroke="#444" stroke-width="0.9"/>
<text x="86.6" y="684.8" font-size="4.7" fill="#2e2e2e" stroke="#2e2e2e" stroke-width="0.15" text-anchor="end" font-family='Liberation Sans', sans-serif>0</text>
<text x="86.6" y="668.7" font-size="4.7" fill="#2e2e2e" stroke="#2e2e2e" stroke-width="0.15" text-anchor="end" font-family='Liberation Sans', sans-serif>20</text>
<text x="86.6" y="652.7" font-size="4.7" fill="#2e2e2e" stroke="#2e2e2e" stroke-width="0.15" text-anchor="end" font-family='Liberation Sans', sans-serif>40</text>
<text x="86.6" y="636.6" font-size="4.7" fill="#2e2e2e" stroke="#2e2e2e" stroke-width="0.15" text-anchor="end" font-family='Liberation Sans', sans-serif>60</text>
<text x="86.6" y="620.6" font-size="4.7" fill="#2e2e2e" stroke="#2e2e2e" stroke-width="0.15" text-anchor="end" font-family='Liberation Sans', sans-serif>80</text>
<text x="86.6" y="604.5" font-size="4.7" fill="#2e2e2e" stroke="#2e2e2e" stroke-width="0.15" text-anchor="end" font-family='Liberation Sans', sans-serif>100</text>
<text x="97.7" y="690.7" font-size="4.2" fill="#777" text-anchor="middle" font-family='Liberation Sans', sans-serif>10<tspan dy="-1.8" font-size="2.8">0</tspan></text>
<text x="114.2" y="690.7" font-size="4.2" fill="#777" text-anchor="middle" font-family='Liberation Sans', sans-serif>10<tspan dy="-1.8" font-size="2.8">1</tspan></text>
<text x="132.9" y="690.7" font-size="4.2" fill="#777" text-anchor="middle" font-family='Liberation Sans', sans-serif>10<tspan dy="-1.8" font-size="2.8">2</tspan></text>
<text x="153.0" y="690.7" font-size="4.2" fill="#777" text-anchor="middle" font-family='Liberation Sans', sans-serif>10<tspan dy="-1.8" font-size="2.8">3</tspan></text>
<text x="170.4" y="690.7" font-size="4.2" fill="#777" text-anchor="middle" font-family='Liberation Sans', sans-serif>10<tspan dy="-1.8" font-size="2.8">4</tspan></text>
<path d="M179.4,596.1 H255.2 V684.7" fill="none" stroke="#666" stroke-width="1"/>
<polygon points="179.4,684.7 179.4,680.5 179.7,677.8 180.6,674.7 180.8,672.1 180.5,669.8 181.2,667.0 181.7,664.8 181.5,662.3 182.0,659.6 182.0,657.5 182.7,654.9 183.2,652.7 182.4,650.7 183.7,648.2 183.4,646.2 184.2,643.7 184.1,641.1 184.0,638.5 184.3,636.0 184.1,633.5 184.8,631.1 184.4,628.7 184.8,625.9 185.2,623.6 185.8,621.2 185.6,618.5 185.4,615.9 186.4,612.9 186.0,610.1 187.0,607.8 186.6,605.2 187.4,603.0 188.4,600.9 189.2,603.3 189.8,606.2 189.8,608.4 190.3,610.6 189.7,613.2 190.1,615.3 190.6,617.7 191.0,620.1 191.2,622.3 191.7,624.7 192.0,627.0 192.2,629.4 192.0,631.7 192.6,634.4 193.1,636.8 193.7,639.4 194.8,642.2 195.0,645.3 195.8,647.7 195.8,650.2 195.7,652.3 196.5,654.5 197.2,657.5 197.1,660.0 197.7,662.9 197.8,665.1 198.5,667.5 198.3,669.6 199.1,672.1 199.3,674.5 199.7,676.9 200.8,679.7 203.4,682.6 206.8,683.9 208.3,684.7 255.2,684.7" fill="#3c3c3c" stroke="#141414" stroke-width="0.9" stroke-linejoin="round"/>
<polyline points="179.4,681.3 177.5,681.3 177.6,678.7 178.1,675.8 178.4,672.9 178.5,670.6 179.1,667.7 179.2,665.3 178.9,663.0 179.6,660.4 180.2,658.2 180.5,655.7 180.7,653.6 180.3,651.3 180.7,649.3 181.0,647.0 181.2,644.6 181.3,641.7 182.0,639.4 182.2,637.0 182.0,634.3 182.4,631.9 182.8,629.3 182.4,626.7 182.5,624.3 183.4,621.7 183.2,619.3 183.5,616.3 183.3,613.7 183.6,610.9 183.8,608.5 184.2,606.0 185.0,603.8 186.0,601.7 186.5,604.1 186.6,606.6 187.4,609.2 187.7,611.5 187.3,613.7 188.0,616.2 188.2,618.5 188.9,620.9 188.6,623.3 189.0,625.5 189.1,627.8 189.8,630.2 190.5,632.8 191.0,635.4 190.6,637.7 191.3,640.2 191.6,643.1 192.6,646.1 192.6,648.4 193.3,650.8 193.4,652.9 194.1,655.3 194.1,658.2 195.3,660.9 195.3,663.7 195.9,666.1 196.0,668.4 196.0,670.5 196.7,672.9 197.4,675.4 197.4,678.0 198.4,680.5 201.0,683.4 204.4,684.7 205.9,684.7 255.2,684.7" fill="none" stroke="#1c1c1c" stroke-width="1.0" stroke-dasharray="2.5,3.0"/>
<polyline points="179.4,681.0 178.6,681.0 179.1,678.2 179.2,675.3 179.5,672.6 180.1,670.1 179.6,667.6 180.0,665.3 180.7,662.5 180.7,660.1 181.4,658.0 181.0,655.4 181.0,653.4 181.4,651.3 181.7,648.9 182.1,646.7 182.2,644.2 183.1,641.8 182.6,639.0 182.9,636.4 183.6,633.9 183.5,631.6 183.7,629.1 183.9,626.5 184.1,623.9 183.8,621.5 184.3,619.0 184.2,616.2 184.1,613.3 184.7,610.6 184.9,608.1 185.7,605.8 186.1,603.5 187.1,601.4 187.7,604.0 188.1,606.3 188.5,608.9 188.7,611.3 189.0,613.7 188.7,616.0 189.3,618.2 189.8,620.6 189.7,623.0 190.6,625.2 190.5,627.7 190.9,629.9 190.8,632.4 192.0,634.8 192.3,637.4 192.4,639.9 193.3,642.8 193.7,645.8 193.8,648.0 194.5,650.4 194.5,652.7 195.2,655.0 195.1,657.6 196.4,660.6 196.4,663.4 196.9,665.9 197.5,668.2 197.1,670.3 197.8,672.6 198.1,675.0 198.5,677.8 199.5,680.2 202.1,683.1 205.5,684.4 207.0,684.7 255.2,684.7" fill="none" stroke="#1a1a1a" stroke-width="0.7"/>
<line x1="179.4" y1="684.4" x2="255.7" y2="684.4" stroke="#111" stroke-width="1.6"/>
<line x1="179.4" y1="596.1" x2="179.4" y2="684.7" stroke="#aaa" stroke-width="1"/>
<line x1="179.4" y1="597.1" x2="179.4" y2="684.7" stroke="#333" stroke-width="1.1" stroke-dasharray="1.6,2.9"/>
<line x1="177.2" y1="684.7" x2="179.4" y2="684.7" stroke="#444" stroke-width="0.9"/>
<line x1="177.2" y1="668.2" x2="179.4" y2="668.2" stroke="#444" stroke-width="0.9"/>
<line x1="177.2" y1="651.7" x2="179.4" y2="651.7" stroke="#444" stroke-width="0.9"/>
<line x1="177.2" y1="635.1" x2="179.4" y2="635.1" stroke="#444" stroke-width="0.9"/>
<line x1="177.2" y1="618.6" x2="179.4" y2="618.6" stroke="#444" stroke-width="0.9"/>
<line x1="177.2" y1="602.1" x2="179.4" y2="602.1" stroke="#444" stroke-width="0.9"/>
<text x="185.3" y="693.2" font-size="4.2" fill="#777" text-anchor="middle" font-family='Liberation Sans', sans-serif>10<tspan dy="-1.8" font-size="2.8">0</tspan></text>
<text x="200.3" y="693.2" font-size="4.2" fill="#777" text-anchor="middle" font-family='Liberation Sans', sans-serif>10<tspan dy="-1.8" font-size="2.8">1</tspan></text>
<text x="217.1" y="693.2" font-size="4.2" fill="#777" text-anchor="middle" font-family='Liberation Sans', sans-serif>10<tspan dy="-1.8" font-size="2.8">2</tspan></text>
<text x="234.8" y="693.2" font-size="4.2" fill="#777" text-anchor="middle" font-family='Liberation Sans', sans-serif>10<tspan dy="-1.8" font-size="2.8">3</tspan></text>
<text x="252.5" y="693.2" font-size="4.2" fill="#777" text-anchor="middle" font-family='Liberation Sans', sans-serif>10<tspan dy="-1.8" font-size="2.8">4</tspan></text>
<path d="M259.1,596.2 H339.6 V685.2" fill="none" stroke="#666" stroke-width="1"/>
<polygon points="259.1,685.2 259.1,681.0 260.3,681.0 261.1,678.1 260.9,675.3 261.2,672.6 260.9,670.0 261.8,667.5 262.1,665.2 262.2,662.4 262.4,660.1 262.2,657.8 262.7,655.8 263.4,653.4 262.9,651.1 264.1,649.1 263.8,646.7 263.8,644.1 264.1,641.8 264.9,639.0 264.8,636.4 265.0,633.9 265.2,631.6 265.5,629.0 265.8,626.6 266.0,624.1 265.6,621.7 266.0,619.1 266.0,616.1 265.7,613.5 266.4,610.7 266.6,608.2 267.7,606.1 267.8,603.6 268.8,601.5 269.8,604.0 270.1,606.5 270.2,609.0 270.6,611.3 271.0,613.8 270.6,616.0 271.1,618.2 271.9,620.6 271.4,623.1 272.2,625.3 272.0,627.4 272.7,630.0 272.6,632.5 274.0,635.1 273.6,637.4 274.3,640.0 274.4,642.7 275.6,645.9 276.4,648.2 276.0,650.3 276.9,653.0 277.1,655.1 277.7,657.9 278.1,660.8 278.4,663.4 279.0,665.6 278.6,668.3 279.0,670.4 279.8,672.6 280.5,675.3 281.3,677.6 281.6,680.2 284.3,683.1 287.8,684.4 289.3,685.2 339.6,685.2" fill="#3c3c3c" stroke="#141414" stroke-width="0.9" stroke-linejoin="round"/>
<polyline points="259.1,681.8 257.9,681.8 258.6,678.9 258.7,676.4 258.8,673.4 259.4,671.0 259.3,668.5 259.7,666.0 260.1,663.5 260.0,660.9 259.9,658.7 260.6,656.3 261.2,654.1 261.2,651.9 261.4,649.6 261.4,647.5 261.3,644.9 261.7,642.4 261.7,640.1 262.3,637.4 262.2,634.8 262.8,632.4 262.7,630.0 263.3,627.5 263.3,624.9 263.2,622.5 263.6,619.9 263.6,617.2 263.8,614.4 264.0,611.5 264.2,609.3 265.0,606.9 265.4,604.4 266.4,602.3 266.4,604.7 267.6,607.4 267.8,609.8 267.5,612.1 268.7,614.5 268.8,616.8 268.7,619.0 269.5,621.4 269.2,623.6 269.5,626.1 270.0,628.3 270.3,630.8 270.6,633.2 271.0,635.8 271.3,638.2 271.9,640.8 272.9,643.8 273.2,646.7 273.2,648.9 273.8,651.1 274.0,653.6 274.7,655.9 275.6,658.7 275.8,661.5 276.0,664.2 276.7,666.7 276.6,669.0 277.2,671.2 277.4,673.4 278.2,675.9 279.1,678.7 279.2,681.0 281.9,683.9 285.4,685.2 286.9,685.2 339.6,685.2" fill="none" stroke="#1c1c1c" stroke-width="1.0" stroke-dasharray="2.5,3.0"/>
<polyline points="259.1,681.5 258.9,678.6 259.4,675.9 259.9,673.1 260.3,670.8 260.9,668.1 260.6,665.6 261.1,663.3 261.1,660.6 261.0,658.3 261.9,656.3 262.1,654.1 262.2,651.7 262.3,649.6 262.5,647.2 262.8,644.8 263.0,642.1 263.1,639.6 263.1,637.2 263.4,634.7 263.9,632.1 264.1,629.8 263.9,627.0 264.6,624.7 264.2,622.0 264.7,619.6 264.4,616.7 264.7,614.1 265.1,611.2 265.8,608.9 265.8,606.4 266.5,604.1 267.5,602.0 268.3,604.6 268.4,606.9 268.9,609.5 269.5,611.9 269.6,614.1 269.4,616.6 269.8,618.7 270.2,621.3 270.3,623.2 271.1,625.9 270.9,628.1 271.4,630.5 272.3,633.1 271.8,635.3 272.6,638.1 273.0,640.5 273.4,643.6 274.3,646.4 274.7,648.6 275.1,651.1 275.6,653.4 275.8,655.6 276.4,658.5 276.7,661.1 277.1,663.9 277.4,666.1 277.4,668.6 278.6,670.6 278.5,673.1 279.6,675.8 280.0,678.2 280.3,680.7 283.0,683.6 286.5,684.9 288.0,685.2 339.6,685.2" fill="none" stroke="#1a1a1a" stroke-width="0.7"/>
<line x1="259.1" y1="684.9" x2="340.1" y2="684.9" stroke="#111" stroke-width="1.6"/>
<line x1="259.1" y1="596.2" x2="259.1" y2="685.2" stroke="#aaa" stroke-width="1"/>
<line x1="259.1" y1="597.2" x2="259.1" y2="685.2" stroke="#333" stroke-width="1.1" stroke-dasharray="1.6,2.9"/>
<line x1="256.9" y1="685.2" x2="259.1" y2="685.2" stroke="#444" stroke-width="0.9"/>
<line x1="256.9" y1="668.6" x2="259.1" y2="668.6" stroke="#444" stroke-width="0.9"/>
<line x1="256.9" y1="652.0" x2="259.1" y2="652.0" stroke="#444" stroke-width="0.9"/>
<line x1="256.9" y1="635.4" x2="259.1" y2="635.4" stroke="#444" stroke-width="0.9"/>
<line x1="256.9" y1="618.8" x2="259.1" y2="618.8" stroke="#444" stroke-width="0.9"/>
<line x1="256.9" y1="602.2" x2="259.1" y2="602.2" stroke="#444" stroke-width="0.9"/>
<text x="266.0" y="693.5" font-size="4.2" fill="#777" text-anchor="middle" font-family='Liberation Sans', sans-serif>10<tspan dy="-1.8" font-size="2.8">0</tspan></text>
<text x="281.2" y="693.5" font-size="4.2" fill="#777" text-anchor="middle" font-family='Liberation Sans', sans-serif>10<tspan dy="-1.8" font-size="2.8">1</tspan></text>
<text x="299.8" y="693.5" font-size="4.2" fill="#777" text-anchor="middle" font-family='Liberation Sans', sans-serif>10<tspan dy="-1.8" font-size="2.8">2</tspan></text>
<text x="318.3" y="693.5" font-size="4.2" fill="#777" text-anchor="middle" font-family='Liberation Sans', sans-serif>10<tspan dy="-1.8" font-size="2.8">3</tspan></text>
<text x="336.0" y="693.5" font-size="4.2" fill="#777" text-anchor="middle" font-family='Liberation Sans', sans-serif>10<tspan dy="-1.8" font-size="2.8">4</tspan></text>
<path d="M345.8,594.1 H426.6 V684.8" fill="none" stroke="#666" stroke-width="1"/>
<polygon points="345.8,684.8 345.8,681.4 346.9,681.4 347.4,679.2 347.5,677.0 348.2,674.5 348.9,672.4 348.9,669.9 349.4,667.5 349.4,665.2 350.0,663.1 349.9,660.8 350.5,658.3 350.6,656.2 350.1,653.5 350.3,651.3 351.3,648.8 351.8,646.6 351.5,644.3 351.4,641.8 351.4,639.6 351.6,637.3 352.1,634.7 352.5,632.6 353.1,630.0 352.9,627.8 353.1,625.1 353.9,622.6 353.5,620.3 354.1,617.6 354.5,615.1 354.3,612.6 355.0,610.1 354.6,607.8 355.0,605.2 355.4,602.9 355.4,600.3 355.2,602.5 355.8,605.3 356.5,607.3 356.8,609.9 357.2,612.1 356.9,614.8 357.3,616.8 357.3,619.3 358.0,621.6 357.9,624.0 358.4,626.4 359.1,628.6 358.7,630.8 358.7,633.2 359.7,635.6 359.5,637.8 360.2,640.1 361.1,642.4 360.6,644.5 361.6,647.1 361.1,649.4 361.5,651.6 362.3,653.9 362.8,656.4 363.2,658.7 363.0,661.2 364.1,663.8 364.3,666.3 365.1,668.8 365.6,671.3 365.9,673.4 366.4,675.9 367.1,678.7 368.4,681.4 371.9,683.9 373.4,684.8 426.6,684.8" fill="#3c3c3c" stroke="#141414" stroke-width="0.9" stroke-linejoin="round"/>
<polyline points="345.8,684.8 346.8,684.8 347.8,684.8 348.8,684.8 349.8,684.8 350.8,684.8 351.8,684.7 352.8,684.7 353.8,684.6 354.8,684.4 355.8,683.0 356.8,682.9 357.8,681.2 358.8,677.9 359.8,672.7 360.8,660.8 361.8,654.2 362.8,642.5 363.8,617.6 364.8,609.9 366.1,600.3 366.8,602.9 367.8,611.7 368.8,626.1 369.8,633.6 370.8,639.5 371.8,650.3 372.8,661.3 373.8,663.1 374.8,670.7 375.8,675.0 376.8,679.9 377.8,681.6 378.8,683.3 379.8,684.0 380.8,684.1 381.8,684.6 382.8,684.7 383.8,684.7 384.8,684.8 385.8,684.8 386.8,684.8 387.8,684.8 388.8,684.8 389.8,684.8 390.8,684.8 391.8,684.8 392.8,684.8 393.8,684.8 394.8,684.8 395.8,684.8 396.8,684.8 397.8,684.8 398.8,684.8 399.8,684.8 400.8,684.8 401.8,684.8 402.8,684.8 403.8,684.8 404.8,684.8 405.8,684.8 406.8,684.8 407.8,684.8 408.8,684.8 409.8,684.8 410.8,684.8 411.8,684.8 412.8,684.8 413.8,684.8 414.8,684.8 415.8,684.8 416.8,684.8 417.8,684.8 418.8,684.8 419.8,684.8 420.8,684.8 421.8,684.8 422.8,684.8 423.8,684.8 424.8,684.8 425.8,684.8 426.6,684.8" fill="none" stroke="#1c1c1c" stroke-width="1.0" stroke-dasharray="2.5,3.0"/>
<polyline points="345.8,684.8 346.8,684.8 347.8,684.8 348.8,684.8 349.8,684.8 350.8,684.8 351.8,684.8 352.8,684.7 353.8,684.7 354.8,684.6 355.8,684.3 356.8,682.8 357.8,681.4 358.8,678.7 359.8,672.7 360.8,668.5 361.8,653.7 362.8,649.6 363.8,627.6 364.8,624.1 365.8,606.7 366.8,601.0 367.8,605.0 368.8,617.0 369.8,626.2 370.8,634.6 371.8,639.8 372.8,646.7 373.8,658.7 374.8,668.0 375.8,673.2 376.8,676.0 377.8,679.2 378.8,682.9 379.8,683.3 380.8,683.8 381.8,684.2 382.8,684.6 383.8,684.7 384.8,684.7 385.8,684.8 386.8,684.8 387.8,684.8 388.8,684.8 389.8,684.8 390.8,684.8 391.8,684.8 392.8,684.8 393.8,684.8 394.8,684.8 395.8,684.8 396.8,684.8 397.8,684.8 398.8,684.8 399.8,684.8 400.8,684.8 401.8,684.8 402.8,684.8 403.8,684.8 404.8,684.8 405.8,684.8 406.8,684.8 407.8,684.8 408.8,684.8 409.8,684.8 410.8,684.8 411.8,684.8 412.8,684.8 413.8,684.8 414.8,684.8 415.8,684.8 416.8,684.8 417.8,684.8 418.8,684.8 419.8,684.8 420.8,684.8 421.8,684.8 422.8,684.8 423.8,684.8 424.8,684.8 425.8,684.8 426.6,684.8" fill="none" stroke="#1a1a1a" stroke-width="0.7"/>
<line x1="345.8" y1="684.5" x2="427.1" y2="684.5" stroke="#111" stroke-width="1.6"/>
<line x1="345.8" y1="594.1" x2="345.8" y2="684.8" stroke="#aaa" stroke-width="1"/>
<line x1="345.8" y1="595.1" x2="345.8" y2="684.8" stroke="#333" stroke-width="1.1" stroke-dasharray="1.6,2.9"/>
<line x1="343.6" y1="684.8" x2="345.8" y2="684.8" stroke="#444" stroke-width="0.9"/>
<line x1="343.6" y1="667.9" x2="345.8" y2="667.9" stroke="#444" stroke-width="0.9"/>
<line x1="343.6" y1="650.9" x2="345.8" y2="650.9" stroke="#444" stroke-width="0.9"/>
<line x1="343.6" y1="634.0" x2="345.8" y2="634.0" stroke="#444" stroke-width="0.9"/>
<line x1="343.6" y1="617.0" x2="345.8" y2="617.0" stroke="#444" stroke-width="0.9"/>
<line x1="343.6" y1="600.1" x2="345.8" y2="600.1" stroke="#444" stroke-width="0.9"/>
<text x="349.3" y="693.2" font-size="4.2" fill="#777" text-anchor="middle" font-family='Liberation Sans', sans-serif>10<tspan dy="-1.8" font-size="2.8">0</tspan></text>
<text x="367.0" y="693.2" font-size="4.2" fill="#777" text-anchor="middle" font-family='Liberation Sans', sans-serif>10<tspan dy="-1.8" font-size="2.8">1</tspan></text>
<text x="385.5" y="693.2" font-size="4.2" fill="#777" text-anchor="middle" font-family='Liberation Sans', sans-serif>10<tspan dy="-1.8" font-size="2.8">2</tspan></text>
<text x="405.0" y="693.2" font-size="4.2" fill="#777" text-anchor="middle" font-family='Liberation Sans', sans-serif>10<tspan dy="-1.8" font-size="2.8">3</tspan></text>
<text x="423.6" y="693.2" font-size="4.2" fill="#777" text-anchor="middle" font-family='Liberation Sans', sans-serif>10<tspan dy="-1.8" font-size="2.8">4</tspan></text>
<path d="M432.0,596.1 H511.1 V685.5" fill="none" stroke="#666" stroke-width="1"/>
<polygon points="432.0,685.5 432.0,681.4 432.9,681.4 433.5,679.0 434.3,676.9 434.5,674.5 435.0,672.0 434.8,669.9 435.9,667.7 435.7,665.4 435.4,663.2 436.2,660.8 436.6,658.3 436.5,656.0 437.5,653.7 436.6,651.5 437.9,648.9 437.9,646.9 437.9,644.3 438.0,642.0 438.4,639.6 438.5,637.4 439.2,635.1 438.5,632.7 438.6,630.0 439.3,627.8 439.1,625.1 439.7,622.5 439.9,620.4 440.1,617.5 440.8,615.1 440.7,612.6 440.5,610.2 440.8,607.9 441.8,605.4 441.4,603.1 441.7,600.9 442.1,603.3 441.9,605.2 442.3,607.7 442.8,609.9 443.0,612.3 442.9,614.6 443.1,617.0 443.5,619.5 443.9,621.5 444.3,624.0 444.4,626.4 444.7,628.7 445.3,631.2 444.9,633.8 445.4,636.3 446.2,638.8 446.2,641.1 446.6,643.6 447.9,646.0 447.7,648.7 448.3,651.1 448.3,653.4 448.8,656.2 450.0,658.6 449.4,660.9 450.3,663.5 451.1,665.8 450.9,668.3 452.4,670.6 452.4,673.2 453.5,675.2 453.9,677.9 454.4,680.0 455.6,681.7 457.9,683.5 459.4,685.5 511.1,685.5" fill="#3c3c3c" stroke="#141414" stroke-width="0.9" stroke-linejoin="round"/>
<polyline points="432.0,685.5 433.0,685.5 434.0,685.5 435.0,685.5 436.0,685.5 437.0,685.5 438.0,685.5 439.0,685.5 440.0,685.5 441.0,685.4 442.0,685.3 443.0,685.1 444.0,684.1 445.0,683.3 446.0,682.2 447.0,678.4 448.0,672.7 449.0,662.7 450.0,644.3 451.0,639.7 452.0,620.2 453.0,617.8 454.4,602.3 455.0,604.6 456.0,616.0 457.0,620.2 458.0,633.8 459.0,638.9 460.0,651.9 461.0,661.7 462.0,671.1 463.0,674.7 464.0,677.7 465.0,681.4 466.0,682.6 467.0,684.2 468.0,684.6 469.0,685.0 470.0,685.3 471.0,685.4 472.0,685.5 473.0,685.5 474.0,685.5 475.0,685.5 476.0,685.5 477.0,685.5 478.0,685.5 479.0,685.5 480.0,685.5 481.0,685.5 482.0,685.5 483.0,685.5 484.0,685.5 485.0,685.5 486.0,685.5 487.0,685.5 488.0,685.5 489.0,685.5 490.0,685.5 491.0,685.5 492.0,685.5 493.0,685.5 494.0,685.5 495.0,685.5 496.0,685.5 497.0,685.5 498.0,685.5 499.0,685.5 500.0,685.5 501.0,685.5 502.0,685.5 503.0,685.5 504.0,685.5 505.0,685.5 506.0,685.5 507.0,685.5 508.0,685.5 509.0,685.5 510.0,685.5 511.0,685.5 511.1,685.5" fill="none" stroke="#1c1c1c" stroke-width="1.0" stroke-dasharray="2.5,3.0"/>
<polyline points="432.0,685.5 433.0,685.5 434.0,685.5 435.0,685.5 436.0,685.5 437.0,685.5 438.0,685.5 439.0,685.5 440.0,685.5 441.0,685.5 442.0,685.4 443.0,685.3 444.0,684.8 445.0,683.9 446.0,682.3 447.0,680.4 448.0,676.2 449.0,670.9 450.0,663.5 451.0,638.6 452.0,634.2 453.0,617.7 454.0,608.7 455.0,603.0 456.0,606.5 457.0,619.1 458.0,625.2 459.0,641.8 460.0,646.7 461.0,658.4 462.0,664.6 463.0,669.1 464.0,673.8 465.0,679.3 466.0,681.7 467.0,682.4 468.0,684.3 469.0,685.0 470.0,685.2 471.0,685.4 472.0,685.4 473.0,685.5 474.0,685.5 475.0,685.5 476.0,685.5 477.0,685.5 478.0,685.5 479.0,685.5 480.0,685.5 481.0,685.5 482.0,685.5 483.0,685.5 484.0,685.5 485.0,685.5 486.0,685.5 487.0,685.5 488.0,685.5 489.0,685.5 490.0,685.5 491.0,685.5 492.0,685.5 493.0,685.5 494.0,685.5 495.0,685.5 496.0,685.5 497.0,685.5 498.0,685.5 499.0,685.5 500.0,685.5 501.0,685.5 502.0,685.5 503.0,685.5 504.0,685.5 505.0,685.5 506.0,685.5 507.0,685.5 508.0,685.5 509.0,685.5 510.0,685.5 511.0,685.5 511.1,685.5" fill="none" stroke="#1a1a1a" stroke-width="0.7"/>
<line x1="432.0" y1="685.2" x2="511.6" y2="685.2" stroke="#111" stroke-width="1.6"/>
<line x1="432.0" y1="596.1" x2="432.0" y2="685.5" stroke="#aaa" stroke-width="1"/>
<line x1="432.0" y1="597.1" x2="432.0" y2="685.5" stroke="#333" stroke-width="1.1" stroke-dasharray="1.6,2.9"/>
<line x1="429.8" y1="685.5" x2="432.0" y2="685.5" stroke="#444" stroke-width="0.9"/>
<line x1="429.8" y1="668.8" x2="432.0" y2="668.8" stroke="#444" stroke-width="0.9"/>
<line x1="429.8" y1="652.1" x2="432.0" y2="652.1" stroke="#444" stroke-width="0.9"/>
<line x1="429.8" y1="635.5" x2="432.0" y2="635.5" stroke="#444" stroke-width="0.9"/>
<line x1="429.8" y1="618.8" x2="432.0" y2="618.8" stroke="#444" stroke-width="0.9"/>
<line x1="429.8" y1="602.1" x2="432.0" y2="602.1" stroke="#444" stroke-width="0.9"/>
<text x="437.0" y="693.0" font-size="4.2" fill="#777" text-anchor="middle" font-family='Liberation Sans', sans-serif>10<tspan dy="-1.8" font-size="2.8">0</tspan></text>
<text x="453.5" y="693.0" font-size="4.2" fill="#777" text-anchor="middle" font-family='Liberation Sans', sans-serif>10<tspan dy="-1.8" font-size="2.8">1</tspan></text>
<text x="473.0" y="693.0" font-size="4.2" fill="#777" text-anchor="middle" font-family='Liberation Sans', sans-serif>10<tspan dy="-1.8" font-size="2.8">2</tspan></text>
<text x="490.5" y="693.0" font-size="4.2" fill="#777" text-anchor="middle" font-family='Liberation Sans', sans-serif>10<tspan dy="-1.8" font-size="2.8">3</tspan></text>
<text x="509.0" y="693.0" font-size="4.2" fill="#777" text-anchor="middle" font-family='Liberation Sans', sans-serif>10<tspan dy="-1.8" font-size="2.8">4</tspan></text>
</svg>
</body></html>
